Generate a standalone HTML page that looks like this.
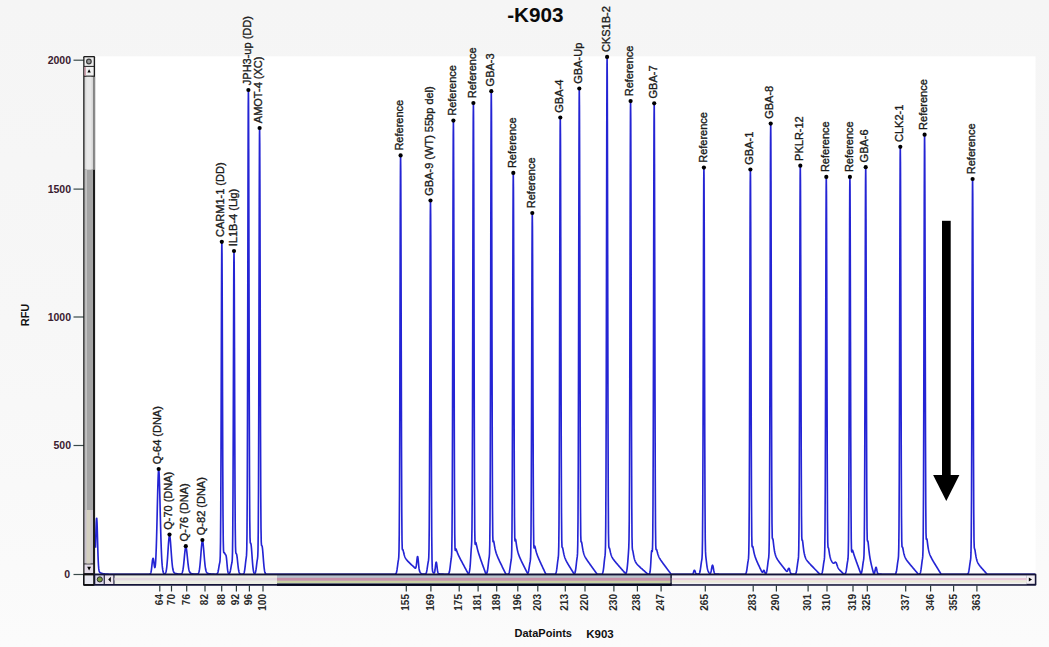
<!DOCTYPE html>
<html><head><meta charset="utf-8"><style>
html,body{margin:0;padding:0;background:#f6f6f6;}
svg{display:block;font-family:"Liberation Sans",sans-serif;}
</style></head><body>
<svg width="1049" height="647" viewBox="0 0 1049 647">
<defs><linearGradient id="bg" x1="0" y1="0" x2="0" y2="1"><stop offset="0" stop-color="#f5f5f5"/><stop offset="0.5" stop-color="#f7f7f7"/><stop offset="1" stop-color="#fbfbfb"/></linearGradient></defs>
<rect x="0" y="0" width="1049" height="647" fill="url(#bg)"/>
<rect x="95" y="56.3" width="940.5" height="518.5" fill="#ffffff"/>
<text x="535.4" y="22" text-anchor="middle" font-size="20.7" font-weight="bold" fill="#0a0a0a">-K903</text>
<text x="71" y="64.0" text-anchor="end" font-size="10.5" font-weight="bold" fill="#3a2030">2000</text>
<line x1="73.5" y1="60.2" x2="84" y2="60.2" stroke="#3a4a4a" stroke-width="1.2"/>
<text x="71" y="192.9" text-anchor="end" font-size="10.5" font-weight="bold" fill="#3a2030">1500</text>
<line x1="73.5" y1="189.1" x2="84" y2="189.1" stroke="#3a4a4a" stroke-width="1.2"/>
<text x="71" y="320.8" text-anchor="end" font-size="10.5" font-weight="bold" fill="#3a2030">1000</text>
<line x1="73.5" y1="317.0" x2="84" y2="317.0" stroke="#3a4a4a" stroke-width="1.2"/>
<text x="71" y="449.3" text-anchor="end" font-size="10.5" font-weight="bold" fill="#3a2030">500</text>
<line x1="73.5" y1="445.5" x2="84" y2="445.5" stroke="#3a4a4a" stroke-width="1.2"/>
<text x="70.2" y="578.3" text-anchor="end" font-size="10.5" font-weight="bold" fill="#3a2030">0</text>
<line x1="73.5" y1="574.5" x2="84" y2="574.5" stroke="#3a4a4a" stroke-width="1.2"/>
<text transform="translate(29,315) rotate(-90)" text-anchor="middle" font-size="11" font-weight="bold" fill="#101010">RFU</text>
<path d="M95.50,547.77 L95.75,538.45 L96.00,529.46 L96.25,522.38 L96.50,518.64 L96.60,518.30 L96.75,518.33 L97.00,521.95 L97.25,529.00 L97.50,537.87 L97.75,546.94 L98.00,554.95 L98.25,561.26 L98.50,565.74 L98.75,568.66 L99.00,570.41 L99.25,571.41 L99.50,571.98 L99.75,572.30 L100.00,572.51 L100.25,572.67 L100.50,572.80 L100.75,572.92 L101.00,573.02 L101.25,573.12 L101.50,573.21 L101.75,573.30 L102.00,573.38 L102.25,573.45 L102.50,573.52 L102.75,573.58 L103.00,573.64 L103.25,573.69 L103.50,573.74 L103.75,573.78 L104.00,573.83 L104.25,573.86 L104.50,573.90 L104.75,573.93 L105.00,573.96 L105.25,573.99 L105.50,574.01 L105.75,574.03 L106.00,574.06 L106.25,574.08 L106.50,574.09 L106.75,574.11 L107.00,574.13 L107.25,574.14 L107.50,574.15 L107.75,574.16 L108.00,574.17 L108.25,574.18 L108.50,574.19 L108.75,574.20 L109.00,574.21 L109.25,574.22 L109.50,574.22 L109.75,574.23 L110.00,574.24 L110.25,574.24 L110.50,574.25 L110.75,574.25 L111.00,574.25 L111.25,574.26 L111.50,574.26 L111.75,574.26 L112.00,574.27 L112.25,574.27 L112.50,574.27 L112.75,574.27 L113.00,574.28 L113.25,574.28 L113.50,574.28 L113.75,574.28 L114.00,574.28 L114.25,574.28 L114.50,574.29 L114.75,574.29 L115.00,574.29 L115.25,574.29 L115.50,574.29 L115.75,574.29 L116.00,574.29 L116.25,574.29 L116.50,574.29 L116.75,574.30 L117.00,574.30 L117.25,574.30 L117.50,574.30 L117.75,574.30 L118.00,574.30 L118.25,574.30 L118.50,574.30 L118.75,574.30 L119.00,574.30 L119.25,574.30 L119.50,574.30 L119.75,574.30 L120.00,574.30 L120.25,574.30 L120.50,574.30 L120.75,574.30 L121.00,574.30 L121.25,574.30 L121.50,574.30 L121.75,574.30 L122.00,574.30 L122.25,574.30 L122.50,574.30 L122.75,574.30 L123.00,574.30 L123.25,574.30 L123.50,574.30 L123.75,574.30 L124.00,574.30 L124.25,574.30 L124.50,574.30 L124.75,574.30 L125.00,574.30 L125.25,574.30 L125.50,574.30 L125.75,574.30 L126.00,574.30 L126.25,574.30 L126.50,574.30 L126.75,574.30 L127.00,574.30 L127.25,574.30 L127.50,574.30 L127.75,574.30 L128.00,574.30 L128.25,574.30 L128.50,574.30 L128.75,574.30 L129.00,574.30 L129.25,574.30 L129.50,574.30 L129.75,574.30 L130.00,574.30 L130.25,574.30 L130.50,574.30 L130.75,574.30 L131.00,574.30 L131.25,574.30 L131.50,574.30 L131.75,574.30 L132.00,574.30 L132.25,574.30 L132.50,574.30 L132.75,574.30 L133.00,574.30 L133.25,574.30 L133.50,574.30 L133.75,574.30 L134.00,574.30 L134.25,574.30 L134.50,574.30 L134.75,574.30 L135.00,574.30 L135.25,574.30 L135.50,574.30 L135.75,574.30 L136.00,574.30 L136.25,574.30 L136.50,574.30 L136.75,574.30 L137.00,574.30 L137.25,574.30 L137.50,574.30 L137.75,574.30 L138.00,574.30 L138.25,574.30 L138.50,574.30 L138.75,574.30 L139.00,574.30 L139.25,574.30 L139.50,574.30 L139.75,574.30 L140.00,574.30 L140.25,574.30 L140.50,574.30 L140.75,574.30 L141.00,574.30 L141.25,574.30 L141.50,574.30 L141.75,574.30 L142.00,574.30 L142.25,574.30 L142.50,574.30 L142.75,574.30 L143.00,574.30 L143.25,574.30 L143.50,574.30 L143.75,574.30 L144.00,574.30 L144.25,574.30 L144.50,574.30 L144.75,574.30 L145.00,574.30 L145.25,574.30 L145.50,574.30 L145.75,574.30 L146.00,574.30 L146.25,574.30 L146.50,574.30 L146.75,574.30 L147.00,574.30 L147.25,574.30 L147.50,574.30 L147.75,574.30 L148.00,574.30 L148.25,574.30 L148.50,574.30 L148.75,574.30 L149.00,574.29 L149.25,574.29 L149.50,574.27 L149.75,574.22 L150.00,574.12 L150.25,573.94 L150.50,573.60 L150.75,573.03 L151.00,572.13 L151.25,570.84 L151.50,569.11 L151.75,566.97 L152.00,564.59 L152.25,562.22 L152.50,560.17 L152.75,558.78 L153.00,558.26 L153.25,558.39 L153.50,559.50 L153.75,561.29 L154.00,563.36 L154.25,565.32 L154.50,566.81 L154.75,567.55 L155.00,567.35 L155.25,566.09 L155.50,563.63 L155.75,559.90 L156.00,554.80 L156.25,548.30 L156.50,540.42 L156.75,531.29 L157.00,521.18 L157.25,510.51 L157.50,499.84 L157.75,489.85 L158.00,481.27 L158.25,474.76 L158.40,472.08 L158.50,470.85 L158.55,470.41 L158.70,469.80 L158.75,469.84 L158.85,470.27 L159.00,471.79 L159.25,476.52 L159.50,483.64 L159.75,492.55 L160.00,502.54 L160.25,512.92 L160.50,523.06 L160.75,532.48 L161.00,540.88 L161.25,548.09 L161.50,554.10 L161.75,558.98 L162.00,562.87 L162.25,565.89 L162.50,568.22 L162.75,569.97 L163.00,571.28 L163.25,572.22 L163.50,572.90 L163.75,573.36 L164.00,573.67 L164.25,573.84 L164.50,573.92 L164.75,573.90 L165.00,573.78 L165.25,573.54 L165.50,573.16 L165.75,572.57 L166.00,571.74 L166.25,570.59 L166.50,569.06 L166.75,567.10 L167.00,564.66 L167.25,561.76 L167.50,558.42 L167.75,554.75 L168.00,550.88 L168.25,547.02 L168.50,543.39 L168.75,540.24 L169.00,537.79 L169.20,536.47 L169.25,536.24 L169.35,535.90 L169.50,535.70 L169.65,535.52 L169.75,535.79 L169.80,535.99 L170.00,537.15 L170.25,539.34 L170.50,542.17 L170.75,545.44 L171.00,548.96 L171.25,552.55 L171.50,556.04 L171.75,559.31 L172.00,562.24 L172.25,564.76 L172.50,566.85 L172.75,568.52 L173.00,569.82 L173.25,570.80 L173.50,571.53 L173.75,572.07 L174.00,572.46 L174.25,572.74 L174.50,572.95 L174.75,573.11 L175.00,573.24 L175.25,573.34 L175.50,573.43 L175.75,573.50 L176.00,573.57 L176.25,573.63 L176.50,573.68 L176.75,573.73 L177.00,573.78 L177.25,573.82 L177.50,573.86 L177.75,573.89 L178.00,573.93 L178.25,573.96 L178.50,573.98 L178.75,574.01 L179.00,574.03 L179.25,574.05 L179.50,574.07 L179.75,574.08 L180.00,574.09 L180.25,574.09 L180.50,574.08 L180.75,574.06 L181.00,574.00 L181.25,573.90 L181.50,573.74 L181.75,573.49 L182.00,573.11 L182.25,572.56 L182.50,571.81 L182.75,570.80 L183.00,569.49 L183.25,567.86 L183.50,565.89 L183.75,563.61 L184.00,561.08 L184.25,558.39 L184.50,555.67 L184.75,553.08 L185.00,550.79 L185.25,548.97 L185.50,547.75 L185.65,547.35 L185.75,547.23 L185.80,547.21 L185.95,547.08 L186.00,547.17 L186.10,547.42 L186.25,547.99 L186.50,549.42 L186.75,551.33 L187.00,553.57 L187.25,556.02 L187.50,558.53 L187.75,561.01 L188.00,563.34 L188.25,565.44 L188.50,567.27 L188.75,568.80 L189.00,570.02 L189.25,570.99 L189.50,571.72 L189.75,572.26 L190.00,572.66 L190.25,572.95 L190.50,573.16 L190.75,573.32 L191.00,573.44 L191.25,573.53 L191.50,573.61 L191.75,573.67 L192.00,573.73 L192.25,573.77 L192.50,573.82 L192.75,573.86 L193.00,573.89 L193.25,573.93 L193.50,573.96 L193.75,573.98 L194.00,574.01 L194.25,574.03 L194.50,574.05 L194.75,574.07 L195.00,574.09 L195.25,574.11 L195.50,574.12 L195.75,574.14 L196.00,574.15 L196.25,574.15 L196.50,574.16 L196.75,574.16 L197.00,574.14 L197.25,574.11 L197.50,574.05 L197.75,573.94 L198.00,573.77 L198.25,573.51 L198.50,573.10 L198.75,572.52 L199.00,571.70 L199.25,570.59 L199.50,569.13 L199.75,567.28 L200.00,565.02 L200.25,562.37 L200.50,559.37 L200.75,556.13 L201.00,552.78 L201.25,549.51 L201.50,546.53 L201.75,544.03 L202.00,542.22 L202.10,541.72 L202.25,541.23 L202.40,541.06 L202.50,540.83 L202.55,540.90 L202.70,541.31 L202.75,541.51 L203.00,542.98 L203.25,545.11 L203.50,547.72 L203.75,550.65 L204.00,553.72 L204.25,556.79 L204.50,559.73 L204.75,562.44 L205.00,564.82 L205.25,566.84 L205.50,568.50 L205.75,569.80 L206.00,570.80 L206.25,571.56 L206.50,572.11 L206.75,572.52 L207.00,572.82 L207.25,573.03 L207.50,573.19 L207.75,573.32 L208.00,573.42 L208.25,573.50 L208.50,573.57 L208.75,573.63 L209.00,573.69 L209.25,573.74 L209.50,573.78 L209.75,573.83 L210.00,573.86 L210.25,573.90 L210.50,573.93 L210.75,573.96 L211.00,573.99 L211.25,574.01 L211.50,574.04 L211.75,574.06 L212.00,574.08 L212.25,574.09 L212.50,574.11 L212.75,574.13 L213.00,574.14 L213.25,574.15 L213.50,574.16 L213.75,574.18 L214.00,574.19 L214.25,574.19 L214.50,574.20 L214.75,574.21 L215.00,574.22 L215.25,574.22 L215.50,574.23 L215.75,574.23 L216.00,574.22 L216.25,574.21 L216.50,574.17 L216.75,574.09 L217.00,573.94 L217.25,573.70 L217.50,573.31 L217.75,572.72 L218.00,571.89 L218.25,570.81 L218.50,569.48 L218.75,567.97 L219.00,566.40 L219.25,564.92 L219.50,563.67 L219.75,562.56 L220.00,560.83 L220.25,555.98 L220.50,542.40 L220.75,511.34 L221.00,455.22 L221.25,376.84 L221.50,296.79 L221.55,283.43 L221.70,253.45 L221.75,247.53 L221.85,242.60 L222.00,252.92 L222.15,282.36 L222.25,309.96 L222.50,391.13 L222.75,465.01 L223.00,514.66 L223.25,540.18 L223.50,550.04 L223.75,552.57 L224.00,552.74 L224.25,552.64 L224.50,552.87 L224.75,553.37 L225.00,553.94 L225.25,554.37 L225.50,554.63 L225.75,554.86 L226.00,555.39 L226.25,556.56 L226.30,556.89 L226.50,558.32 L226.75,560.80 L227.00,563.71 L227.25,566.60 L227.50,569.07 L227.75,570.95 L228.00,572.21 L228.25,572.98 L228.50,573.38 L228.75,573.56 L229.00,573.57 L229.25,573.46 L229.50,573.21 L229.75,572.79 L230.00,572.16 L230.25,571.28 L230.50,570.15 L230.75,568.79 L231.00,567.31 L231.25,565.82 L231.50,564.48 L231.75,563.36 L232.00,562.21 L232.25,559.76 L232.50,552.52 L232.75,533.65 L233.00,494.28 L233.25,429.85 L233.50,349.66 L233.70,291.48 L233.75,279.98 L233.85,262.34 L234.00,251.80 L234.15,261.84 L234.25,279.13 L234.30,290.45 L234.50,347.91 L234.75,427.10 L235.00,490.44 L235.25,528.63 L235.50,546.24 L235.75,552.20 L236.00,553.42 L236.25,553.51 L236.50,553.86 L236.75,554.83 L237.00,556.41 L237.25,558.46 L237.50,560.78 L237.75,563.19 L238.00,565.49 L238.25,567.57 L238.50,569.35 L238.75,570.78 L239.00,571.89 L239.25,572.71 L239.50,573.29 L239.75,573.68 L240.00,573.93 L240.25,574.08 L240.50,574.18 L240.75,574.23 L241.00,574.26 L241.25,574.28 L241.50,574.28 L241.75,574.29 L242.00,574.29 L242.25,574.28 L242.50,574.27 L242.75,574.24 L243.00,574.19 L243.25,574.08 L243.50,573.89 L243.75,573.56 L244.00,573.04 L244.25,572.24 L244.50,571.10 L244.75,569.59 L245.00,567.72 L245.25,565.55 L245.50,563.26 L245.75,561.07 L246.00,559.17 L246.25,557.55 L246.50,555.39 L246.75,549.71 L247.00,533.37 L247.25,494.29 L247.50,420.16 L247.75,310.87 L248.00,191.10 L248.10,150.32 L248.25,106.62 L248.40,90.80 L248.50,97.47 L248.55,105.85 L248.70,148.75 L248.75,167.95 L249.00,283.21 L249.25,395.90 L249.50,475.99 L249.75,519.41 L250.00,537.28 L250.25,542.42 L250.50,543.15 L250.75,543.30 L251.00,544.16 L251.25,546.00 L251.50,548.68 L251.75,551.95 L252.00,555.52 L252.25,559.09 L252.50,562.42 L252.75,565.37 L253.00,567.82 L253.25,569.77 L253.50,571.24 L253.75,572.30 L254.00,573.01 L254.25,573.44 L254.50,573.64 L254.75,573.64 L255.00,573.41 L255.25,572.95 L255.50,572.19 L255.75,571.09 L256.00,569.64 L256.25,567.85 L256.50,565.82 L256.75,563.71 L257.00,561.73 L257.25,560.05 L257.50,558.56 L257.75,556.24 L258.00,549.72 L258.25,531.47 L258.50,489.76 L258.75,414.38 L259.00,309.10 L259.25,201.58 L259.30,183.64 L259.45,143.38 L259.50,135.42 L259.60,128.80 L259.75,142.67 L259.90,182.20 L260.00,219.27 L260.25,328.28 L260.50,427.52 L260.75,494.21 L261.00,528.49 L261.25,541.75 L261.50,545.22 L261.75,545.61 L262.00,545.82 L262.25,546.80 L262.50,548.66 L262.75,551.26 L263.00,554.35 L263.25,557.66 L263.50,560.92 L263.75,563.93 L264.00,566.56 L264.25,568.73 L264.50,570.44 L264.75,571.72 L265.00,572.64 L265.25,573.27 L265.50,573.68 L265.75,573.94 L266.00,574.10 L266.25,574.19 L266.50,574.25 L266.75,574.27 L267.00,574.29 L267.25,574.29 L267.50,574.30 L267.75,574.30 L268.00,574.30 L268.25,574.30 L268.50,574.30 L268.75,574.30 L269.00,574.30 L269.25,574.30 L269.50,574.30 L269.75,574.30 L270.00,574.30 L270.25,574.30 L270.50,574.30 L270.75,574.30 L271.00,574.30 L271.25,574.30 L271.50,574.30 L271.75,574.30 L272.00,574.30 L272.25,574.30 L272.50,574.30 L272.75,574.30 L273.00,574.30 L273.25,574.30 L273.50,574.30 L273.75,574.30 L274.00,574.30 L274.25,574.30 L274.50,574.30 L274.75,574.30 L275.00,574.30 L275.25,574.30 L275.50,574.30 L275.75,574.30 L276.00,574.30 L276.25,574.30 L276.50,574.30 L276.75,574.30 L277.00,574.30 L277.25,574.30 L277.50,574.30 L277.75,574.30 L278.00,574.30 L278.25,574.30 L278.50,574.30 L278.75,574.30 L279.00,574.30 L279.25,574.30 L279.50,574.30 L279.75,574.30 L280.00,574.30 L280.25,574.30 L280.50,574.30 L280.75,574.30 L281.00,574.30 L281.25,574.30 L281.50,574.30 L281.75,574.30 L282.00,574.30 L282.25,574.30 L282.50,574.30 L282.75,574.30 L283.00,574.30 L283.25,574.30 L283.50,574.30 L283.75,574.30 L284.00,574.30 L284.25,574.30 L284.50,574.30 L284.75,574.30 L285.00,574.30 L285.25,574.30 L285.50,574.30 L285.75,574.30 L286.00,574.30 L286.25,574.30 L286.50,574.30 L286.75,574.30 L287.00,574.30 L287.25,574.30 L287.50,574.30 L287.75,574.30 L288.00,574.30 L288.25,574.30 L288.50,574.30 L288.75,574.30 L289.00,574.30 L289.25,574.30 L289.50,574.30 L289.75,574.30 L290.00,574.30 L290.25,574.30 L290.50,574.30 L290.75,574.30 L291.00,574.30 L291.25,574.30 L291.50,574.30 L291.75,574.30 L292.00,574.30 L292.25,574.30 L292.50,574.30 L292.75,574.30 L293.00,574.30 L293.25,574.30 L293.50,574.30 L293.75,574.30 L294.00,574.30 L294.25,574.30 L294.50,574.30 L294.75,574.30 L295.00,574.30 L295.25,574.30 L295.50,574.30 L295.75,574.30 L296.00,574.30 L296.25,574.30 L296.50,574.30 L296.75,574.30 L297.00,574.30 L297.25,574.30 L297.50,574.30 L297.75,574.30 L298.00,574.30 L298.25,574.30 L298.50,574.30 L298.75,574.30 L299.00,574.30 L299.25,574.30 L299.50,574.30 L299.75,574.30 L300.00,574.30 L300.25,574.30 L300.50,574.30 L300.75,574.30 L301.00,574.30 L301.25,574.30 L301.50,574.30 L301.75,574.30 L302.00,574.30 L302.25,574.30 L302.50,574.30 L302.75,574.30 L303.00,574.30 L303.25,574.30 L303.50,574.30 L303.75,574.30 L304.00,574.30 L304.25,574.30 L304.50,574.30 L304.75,574.30 L305.00,574.30 L305.25,574.30 L305.50,574.30 L305.75,574.30 L306.00,574.30 L306.25,574.30 L306.50,574.30 L306.75,574.30 L307.00,574.30 L307.25,574.30 L307.50,574.30 L307.75,574.30 L308.00,574.30 L308.25,574.30 L308.50,574.30 L308.75,574.30 L309.00,574.30 L309.25,574.30 L309.50,574.30 L309.75,574.30 L310.00,574.30 L310.25,574.30 L310.50,574.30 L310.75,574.30 L311.00,574.30 L311.25,574.30 L311.50,574.30 L311.75,574.30 L312.00,574.30 L312.25,574.30 L312.50,574.30 L312.75,574.30 L313.00,574.30 L313.25,574.30 L313.50,574.30 L313.75,574.30 L314.00,574.30 L314.25,574.30 L314.50,574.30 L314.75,574.30 L315.00,574.30 L315.25,574.30 L315.50,574.30 L315.75,574.30 L316.00,574.30 L316.25,574.30 L316.50,574.30 L316.75,574.30 L317.00,574.30 L317.25,574.30 L317.50,574.30 L317.75,574.30 L318.00,574.30 L318.25,574.30 L318.50,574.30 L318.75,574.30 L319.00,574.30 L319.25,574.30 L319.50,574.30 L319.75,574.30 L320.00,574.30 L320.25,574.30 L320.50,574.30 L320.75,574.30 L321.00,574.30 L321.25,574.30 L321.50,574.30 L321.75,574.30 L322.00,574.30 L322.25,574.30 L322.50,574.30 L322.75,574.30 L323.00,574.30 L323.25,574.30 L323.50,574.30 L323.75,574.30 L324.00,574.30 L324.25,574.30 L324.50,574.30 L324.75,574.30 L325.00,574.30 L325.25,574.30 L325.50,574.30 L325.75,574.30 L326.00,574.30 L326.25,574.30 L326.50,574.30 L326.75,574.30 L327.00,574.30 L327.25,574.30 L327.50,574.30 L327.75,574.30 L328.00,574.30 L328.25,574.30 L328.50,574.30 L328.75,574.30 L329.00,574.30 L329.25,574.30 L329.50,574.30 L329.75,574.30 L330.00,574.30 L330.25,574.30 L330.50,574.30 L330.75,574.30 L331.00,574.30 L331.25,574.30 L331.50,574.30 L331.75,574.30 L332.00,574.30 L332.25,574.30 L332.50,574.30 L332.75,574.30 L333.00,574.30 L333.25,574.30 L333.50,574.30 L333.75,574.30 L334.00,574.30 L334.25,574.30 L334.50,574.30 L334.75,574.30 L335.00,574.30 L335.25,574.30 L335.50,574.30 L335.75,574.30 L336.00,574.30 L336.25,574.30 L336.50,574.30 L336.75,574.30 L337.00,574.30 L337.25,574.30 L337.50,574.30 L337.75,574.30 L338.00,574.30 L338.25,574.30 L338.50,574.30 L338.75,574.30 L339.00,574.30 L339.25,574.30 L339.50,574.30 L339.75,574.30 L340.00,574.30 L340.25,574.30 L340.50,574.30 L340.75,574.30 L341.00,574.30 L341.25,574.30 L341.50,574.30 L341.75,574.30 L342.00,574.30 L342.25,574.30 L342.50,574.30 L342.75,574.30 L343.00,574.30 L343.25,574.30 L343.50,574.30 L343.75,574.30 L344.00,574.30 L344.25,574.30 L344.50,574.30 L344.75,574.30 L345.00,574.30 L345.25,574.30 L345.50,574.30 L345.75,574.30 L346.00,574.30 L346.25,574.30 L346.50,574.30 L346.75,574.30 L347.00,574.30 L347.25,574.30 L347.50,574.30 L347.75,574.30 L348.00,574.30 L348.25,574.30 L348.50,574.30 L348.75,574.30 L349.00,574.30 L349.25,574.30 L349.50,574.30 L349.75,574.30 L350.00,574.30 L350.25,574.30 L350.50,574.30 L350.75,574.30 L351.00,574.30 L351.25,574.30 L351.50,574.30 L351.75,574.30 L352.00,574.30 L352.25,574.30 L352.50,574.30 L352.75,574.30 L353.00,574.30 L353.25,574.30 L353.50,574.30 L353.75,574.30 L354.00,574.30 L354.25,574.30 L354.50,574.30 L354.75,574.30 L355.00,574.30 L355.25,574.30 L355.50,574.30 L355.75,574.30 L356.00,574.30 L356.25,574.30 L356.50,574.30 L356.75,574.30 L357.00,574.30 L357.25,574.30 L357.50,574.30 L357.75,574.30 L358.00,574.30 L358.25,574.30 L358.50,574.30 L358.75,574.30 L359.00,574.30 L359.25,574.30 L359.50,574.30 L359.75,574.30 L360.00,574.30 L360.25,574.30 L360.50,574.30 L360.75,574.30 L361.00,574.30 L361.25,574.30 L361.50,574.30 L361.75,574.30 L362.00,574.30 L362.25,574.30 L362.50,574.30 L362.75,574.30 L363.00,574.30 L363.25,574.30 L363.50,574.30 L363.75,574.30 L364.00,574.30 L364.25,574.30 L364.50,574.30 L364.75,574.30 L365.00,574.30 L365.25,574.30 L365.50,574.30 L365.75,574.30 L366.00,574.30 L366.25,574.30 L366.50,574.30 L366.75,574.30 L367.00,574.30 L367.25,574.30 L367.50,574.30 L367.75,574.30 L368.00,574.30 L368.25,574.30 L368.50,574.30 L368.75,574.30 L369.00,574.30 L369.25,574.30 L369.50,574.30 L369.75,574.30 L370.00,574.30 L370.25,574.30 L370.50,574.30 L370.75,574.30 L371.00,574.30 L371.25,574.30 L371.50,574.30 L371.75,574.30 L372.00,574.30 L372.25,574.30 L372.50,574.30 L372.75,574.30 L373.00,574.30 L373.25,574.30 L373.50,574.30 L373.75,574.30 L374.00,574.30 L374.25,574.30 L374.50,574.30 L374.75,574.30 L375.00,574.30 L375.25,574.30 L375.50,574.30 L375.75,574.30 L376.00,574.30 L376.25,574.30 L376.50,574.30 L376.75,574.30 L377.00,574.30 L377.25,574.30 L377.50,574.30 L377.75,574.30 L378.00,574.30 L378.25,574.30 L378.50,574.30 L378.75,574.30 L379.00,574.30 L379.25,574.30 L379.50,574.30 L379.75,574.30 L380.00,574.30 L380.25,574.30 L380.50,574.30 L380.75,574.30 L381.00,574.30 L381.25,574.30 L381.50,574.30 L381.75,574.30 L382.00,574.30 L382.25,574.30 L382.50,574.30 L382.75,574.30 L383.00,574.30 L383.25,574.30 L383.50,574.30 L383.75,574.30 L384.00,574.30 L384.25,574.30 L384.50,574.30 L384.75,574.30 L385.00,574.30 L385.25,574.30 L385.50,574.30 L385.75,574.30 L386.00,574.30 L386.25,574.30 L386.50,574.30 L386.75,574.30 L387.00,574.30 L387.25,574.30 L387.50,574.30 L387.75,574.30 L388.00,574.30 L388.25,574.30 L388.50,574.30 L388.75,574.30 L389.00,574.30 L389.25,574.30 L389.50,574.30 L389.75,574.30 L390.00,574.30 L390.25,574.30 L390.50,574.30 L390.75,574.30 L391.00,574.30 L391.25,574.30 L391.50,574.30 L391.75,574.30 L392.00,574.30 L392.25,574.30 L392.50,574.30 L392.75,574.30 L393.00,574.30 L393.25,574.30 L393.50,574.30 L393.75,574.30 L394.00,574.30 L394.25,574.30 L394.50,574.29 L394.75,574.28 L395.00,574.25 L395.25,574.19 L395.50,574.09 L395.75,573.90 L396.00,573.59 L396.25,573.08 L396.50,572.34 L396.75,571.28 L397.00,569.90 L397.25,568.21 L397.50,566.29 L397.75,564.30 L398.00,562.42 L398.25,560.83 L398.50,559.43 L398.75,557.23 L399.00,551.08 L399.25,533.85 L399.50,494.48 L399.75,423.35 L400.00,324.14 L400.25,223.14 L400.30,206.37 L400.45,169.01 L400.50,161.78 L400.60,156.20 L400.75,170.28 L400.90,208.99 L401.00,245.01 L401.25,350.52 L401.50,446.19 L401.75,509.53 L402.00,539.79 L402.25,548.49 L402.50,549.74 L402.75,549.52 L403.00,549.88 L403.25,550.81 L403.50,551.94 L403.75,553.07 L404.00,554.09 L404.25,554.99 L404.50,555.78 L404.75,556.47 L405.00,557.07 L405.25,557.61 L405.50,558.09 L405.75,558.53 L406.00,558.92 L406.25,559.29 L406.50,559.63 L406.75,559.95 L407.00,560.26 L407.25,560.55 L407.50,560.83 L407.75,561.11 L408.00,561.37 L408.25,561.63 L408.50,561.89 L408.75,562.14 L409.00,562.39 L409.25,562.63 L409.50,562.88 L409.75,563.12 L410.00,563.36 L410.25,563.60 L410.50,563.84 L410.75,564.08 L411.00,564.32 L411.25,564.55 L411.50,564.79 L411.75,565.03 L412.00,565.26 L412.25,565.50 L412.50,565.74 L412.75,565.97 L413.00,566.21 L413.25,566.44 L413.50,566.68 L413.75,566.91 L414.00,567.15 L414.25,567.38 L414.50,567.61 L414.75,567.83 L415.00,568.02 L415.25,568.14 L415.50,568.11 L415.75,567.83 L416.00,567.14 L416.25,565.90 L416.50,564.06 L416.75,561.78 L417.00,559.40 L417.25,557.48 L417.50,556.55 L417.60,556.54 L417.75,556.74 L418.00,558.15 L418.25,560.55 L418.50,563.33 L418.75,565.98 L419.00,568.16 L419.25,569.77 L419.50,570.86 L419.75,571.58 L420.00,572.07 L420.25,572.43 L420.50,572.74 L420.75,573.03 L421.00,573.30 L421.25,573.57 L421.50,573.83 L421.75,573.95 L422.00,573.98 L422.25,574.01 L422.50,574.03 L422.75,574.05 L423.00,574.07 L423.25,574.09 L423.50,574.10 L423.75,574.12 L424.00,574.13 L424.25,574.14 L424.50,574.15 L424.75,574.14 L425.00,574.12 L425.25,574.07 L425.50,573.96 L425.75,573.76 L426.00,573.42 L426.25,572.90 L426.50,572.13 L426.75,571.08 L427.00,569.74 L427.25,568.14 L427.50,566.39 L427.75,564.64 L428.00,563.06 L428.25,561.75 L428.50,560.40 L428.75,557.53 L429.00,549.09 L429.25,527.11 L429.50,481.30 L429.75,406.38 L430.00,313.30 L430.20,246.05 L430.25,232.84 L430.35,212.73 L430.50,201.30 L430.65,214.07 L430.75,235.08 L430.80,248.74 L431.00,317.76 L431.25,412.93 L431.50,489.65 L431.75,536.74 L432.00,559.27 L432.25,567.89 L432.50,570.78 L432.75,571.76 L433.00,572.25 L433.25,572.61 L433.50,572.88 L433.75,573.06 L434.00,573.11 L434.25,572.94 L434.50,572.44 L434.75,571.49 L435.00,570.00 L435.25,568.05 L435.50,565.85 L435.75,563.84 L436.00,562.49 L436.20,562.15 L436.25,562.12 L436.50,562.72 L436.75,564.31 L437.00,566.44 L437.25,568.62 L437.50,570.48 L437.75,571.86 L438.00,572.76 L438.25,573.30 L438.50,573.58 L438.75,573.74 L439.00,573.82 L439.25,573.87 L439.50,573.90 L439.75,573.93 L440.00,573.96 L440.25,573.99 L440.50,574.01 L440.75,574.04 L441.00,574.06 L441.25,574.08 L441.50,574.09 L441.75,574.11 L442.00,574.13 L442.25,574.14 L442.50,574.15 L442.75,574.16 L443.00,574.18 L443.25,574.19 L443.50,574.19 L443.75,574.20 L444.00,574.21 L444.25,574.22 L444.50,574.22 L444.75,574.23 L445.00,574.24 L445.25,574.24 L445.50,574.25 L445.75,574.25 L446.00,574.25 L446.25,574.26 L446.50,574.26 L446.75,574.26 L447.00,574.26 L447.25,574.26 L447.50,574.25 L447.75,574.23 L448.00,574.18 L448.25,574.08 L448.50,573.90 L448.75,573.59 L449.00,573.09 L449.25,572.34 L449.50,571.27 L449.75,569.85 L450.00,568.08 L450.25,566.04 L450.50,563.88 L450.75,561.81 L451.00,560.02 L451.25,558.50 L451.50,556.46 L451.75,551.11 L452.00,535.71 L452.25,498.89 L452.50,429.08 L452.75,326.24 L453.00,213.84 L453.10,175.74 L453.25,135.28 L453.40,121.40 L453.50,128.34 L453.55,136.70 L453.70,178.66 L453.75,197.31 L454.00,308.85 L454.25,417.65 L454.50,494.45 L454.75,534.50 L455.00,548.24 L455.25,550.44 L455.50,549.52 L455.75,548.87 L456.00,548.95 L456.25,549.47 L456.50,550.16 L456.75,550.90 L457.00,551.62 L457.25,552.31 L457.50,552.96 L457.75,553.58 L458.00,554.18 L458.25,554.75 L458.50,555.30 L458.75,555.83 L459.00,556.35 L459.25,556.86 L459.50,557.37 L459.75,557.86 L460.00,558.35 L460.25,558.84 L460.50,559.32 L460.75,559.80 L461.00,560.27 L461.25,560.75 L461.50,561.22 L461.75,561.69 L462.00,562.16 L462.25,562.63 L462.50,563.10 L462.75,563.57 L463.00,564.04 L463.25,564.51 L463.50,564.97 L463.75,565.44 L464.00,565.91 L464.25,566.37 L464.50,566.84 L464.75,567.31 L465.00,567.77 L465.25,568.24 L465.50,568.71 L465.75,569.17 L466.00,569.64 L466.25,570.11 L466.50,570.57 L466.75,571.04 L467.00,571.50 L467.25,571.96 L467.50,572.41 L467.75,572.85 L468.00,573.26 L468.25,573.63 L468.50,573.90 L468.75,573.58 L469.00,573.06 L469.25,572.28 L469.50,571.14 L469.75,569.55 L470.00,567.42 L470.25,564.60 L470.50,561.01 L470.75,556.77 L471.00,552.43 L471.25,548.74 L471.50,545.80 L471.75,540.87 L472.00,526.86 L472.25,491.06 L472.50,420.66 L472.75,315.27 L473.00,199.33 L473.10,159.96 L473.25,118.12 L473.40,103.80 L473.50,110.99 L473.55,119.66 L473.70,163.20 L473.75,182.54 L474.00,298.17 L474.25,410.76 L474.50,489.84 L474.75,530.27 L475.00,543.00 L475.25,544.37 L475.50,543.07 L475.75,542.52 L476.00,542.95 L476.25,543.91 L476.50,545.06 L476.75,546.23 L477.00,547.35 L477.25,548.41 L477.50,549.41 L477.75,550.36 L478.00,551.26 L478.25,552.13 L478.50,552.96 L478.75,553.76 L479.00,554.55 L479.25,555.31 L479.50,556.07 L479.75,556.81 L480.00,557.54 L480.25,558.27 L480.50,558.99 L480.75,559.70 L481.00,560.41 L481.25,561.11 L481.50,561.82 L481.75,562.52 L482.00,563.22 L482.25,563.91 L482.50,564.61 L482.75,565.30 L483.00,566.00 L483.25,566.69 L483.50,567.38 L483.75,568.08 L484.00,568.77 L484.25,569.46 L484.50,570.15 L484.75,570.84 L485.00,571.53 L485.25,572.21 L485.50,572.88 L485.75,573.53 L486.00,574.15 L486.25,574.01 L486.50,573.77 L486.75,573.37 L487.00,572.74 L487.25,571.81 L487.50,570.53 L487.75,568.86 L488.00,566.84 L488.25,564.60 L488.50,562.31 L488.75,560.20 L489.00,558.44 L489.25,556.78 L489.50,553.74 L489.75,544.91 L490.00,521.05 L490.25,468.92 L490.50,379.30 L490.75,261.17 L491.00,149.87 L491.15,106.78 L491.25,93.47 L491.30,92.00 L491.45,108.19 L491.50,120.25 L491.60,152.82 L491.75,217.45 L492.00,340.07 L492.25,443.82 L492.50,508.02 L492.75,535.59 L493.00,541.69 L493.25,541.52 L493.50,540.93 L493.75,541.45 L494.00,542.72 L494.25,544.25 L494.50,545.77 L494.75,547.17 L495.00,548.45 L495.25,549.59 L495.50,550.62 L495.75,551.55 L496.00,552.41 L496.25,553.21 L496.50,553.95 L496.75,554.65 L497.00,555.31 L497.25,555.95 L497.50,556.56 L497.75,557.16 L498.00,557.74 L498.25,558.30 L498.50,558.86 L498.75,559.41 L499.00,559.95 L499.25,560.49 L499.50,561.03 L499.75,561.56 L500.00,562.09 L500.25,562.61 L500.50,563.13 L500.75,563.66 L501.00,564.18 L501.25,564.70 L501.50,565.21 L501.75,565.73 L502.00,566.25 L502.25,566.77 L502.50,567.28 L502.75,567.80 L503.00,568.32 L503.25,568.83 L503.50,569.35 L503.75,569.87 L504.00,570.38 L504.25,570.90 L504.50,571.41 L504.75,571.93 L505.00,572.44 L505.25,572.96 L505.50,573.47 L505.75,573.99 L506.00,574.30 L506.25,574.30 L506.50,574.30 L506.75,574.30 L507.00,574.30 L507.25,574.29 L507.50,574.27 L507.75,574.24 L508.00,574.18 L508.25,574.07 L508.50,573.87 L508.75,573.54 L509.00,573.01 L509.25,572.24 L509.50,571.17 L509.75,569.78 L510.00,568.11 L510.25,566.25 L510.50,564.34 L510.75,562.59 L511.00,561.13 L511.25,559.75 L511.50,557.23 L511.75,549.89 L512.00,530.07 L512.25,486.78 L512.50,412.34 L512.75,314.21 L513.00,221.77 L513.15,185.98 L513.25,174.92 L513.30,173.70 L513.45,187.06 L513.50,197.06 L513.60,224.06 L513.75,277.65 L514.00,379.20 L514.25,464.74 L514.50,516.84 L514.75,537.79 L515.00,540.87 L515.25,539.82 L515.50,539.21 L515.75,539.99 L516.00,541.58 L516.25,543.39 L516.50,545.15 L516.75,546.75 L517.00,548.18 L517.25,549.45 L517.50,550.59 L517.75,551.60 L518.00,552.52 L518.25,553.36 L518.50,554.14 L518.75,554.87 L519.00,555.56 L519.25,556.21 L519.50,556.83 L519.75,557.43 L520.00,558.02 L520.25,558.59 L520.50,559.14 L520.75,559.69 L521.00,560.23 L521.25,560.76 L521.50,561.29 L521.75,561.81 L522.00,562.33 L522.25,562.85 L522.50,563.36 L522.75,563.87 L523.00,564.38 L523.25,564.89 L523.50,565.40 L523.75,565.91 L524.00,566.42 L524.25,566.92 L524.50,567.43 L524.75,567.94 L525.00,568.44 L525.25,568.95 L525.50,569.45 L525.75,569.96 L526.00,570.46 L526.25,570.96 L526.50,571.45 L526.75,571.93 L527.00,572.38 L527.25,572.78 L527.50,573.10 L527.75,573.31 L528.00,573.14 L528.25,572.45 L528.50,571.48 L528.75,570.24 L529.00,568.73 L529.25,567.05 L529.50,565.34 L529.75,563.76 L530.00,562.44 L530.25,561.20 L530.50,558.93 L530.75,552.34 L531.00,534.50 L531.25,495.54 L531.50,428.55 L531.75,340.25 L532.00,257.05 L532.15,224.85 L532.25,214.90 L532.30,213.80 L532.45,225.88 L532.50,234.89 L532.60,259.22 L532.75,307.50 L533.00,399.07 L533.25,476.44 L533.50,524.08 L533.75,544.15 L534.00,547.97 L534.25,547.02 L534.50,545.97 L534.75,545.99 L535.00,546.74 L535.25,547.79 L535.50,548.90 L535.75,549.97 L536.00,550.96 L536.25,551.88 L536.50,552.74 L536.75,553.53 L537.00,554.28 L537.25,554.99 L537.50,555.67 L537.75,556.32 L538.00,556.95 L538.25,557.56 L538.50,558.16 L538.75,558.74 L539.00,559.32 L539.25,559.89 L539.50,560.45 L539.75,561.01 L540.00,561.56 L540.25,562.11 L540.50,562.66 L540.75,563.21 L541.00,563.75 L541.25,564.29 L541.50,564.84 L541.75,565.38 L542.00,565.92 L542.25,566.46 L542.50,566.99 L542.75,567.53 L543.00,568.07 L543.25,568.61 L543.50,569.15 L543.75,569.68 L544.00,570.22 L544.25,570.76 L544.50,571.29 L544.75,571.83 L545.00,572.37 L545.25,572.90 L545.50,573.44 L545.75,573.98 L546.00,574.30 L546.25,574.30 L546.50,574.30 L546.75,574.30 L547.00,574.30 L547.25,574.30 L547.50,574.30 L547.75,574.30 L548.00,574.30 L548.25,574.30 L548.50,574.30 L548.75,574.30 L549.00,574.30 L549.25,574.30 L549.50,574.30 L549.75,574.30 L550.00,574.30 L550.25,574.30 L550.50,574.30 L550.75,574.30 L551.00,574.30 L551.25,574.30 L551.50,574.30 L551.75,574.30 L552.00,574.30 L552.25,574.30 L552.50,574.30 L552.75,574.30 L553.00,574.30 L553.25,574.30 L553.50,574.30 L553.75,574.30 L554.00,574.29 L554.25,574.29 L554.50,574.27 L554.75,574.24 L555.00,574.17 L555.25,574.04 L555.50,573.81 L555.75,573.43 L556.00,572.83 L556.25,571.96 L556.50,570.74 L556.75,569.16 L557.00,567.25 L557.25,565.13 L557.50,562.97 L557.75,560.97 L558.00,559.30 L558.25,557.73 L558.50,554.86 L558.75,546.52 L559.00,523.95 L559.25,474.67 L559.50,389.94 L559.75,278.24 L560.00,173.01 L560.15,132.28 L560.25,119.69 L560.30,118.30 L560.45,133.65 L560.50,145.06 L560.60,175.88 L560.75,237.03 L561.00,353.12 L561.25,451.54 L561.50,512.86 L561.75,539.92 L562.00,546.85 L562.25,547.62 L562.50,547.59 L562.75,548.30 L563.00,549.54 L563.25,550.94 L563.50,552.30 L563.75,553.53 L564.00,554.64 L564.25,555.62 L564.50,556.50 L564.75,557.29 L565.00,558.00 L565.25,558.66 L565.50,559.27 L565.75,559.84 L566.00,560.38 L566.25,560.89 L566.50,561.39 L566.75,561.86 L567.00,562.32 L567.25,562.77 L567.50,563.21 L567.75,563.65 L568.00,564.07 L568.25,564.50 L568.50,564.91 L568.75,565.33 L569.00,565.74 L569.25,566.15 L569.50,566.56 L569.75,566.97 L570.00,567.38 L570.25,567.78 L570.50,568.19 L570.75,568.59 L571.00,568.99 L571.25,569.40 L571.50,569.80 L571.75,570.20 L572.00,570.60 L572.25,571.01 L572.50,571.41 L572.75,571.81 L573.00,572.21 L573.25,572.60 L573.50,572.98 L573.75,573.35 L574.00,573.68 L574.25,573.94 L574.50,573.78 L574.75,573.37 L575.00,572.74 L575.25,571.81 L575.50,570.51 L575.75,568.83 L576.00,566.81 L576.25,564.55 L576.50,562.24 L576.75,560.13 L577.00,558.35 L577.25,556.68 L577.50,553.63 L577.75,544.75 L578.00,520.75 L578.25,468.34 L578.50,378.21 L578.75,259.42 L579.00,147.49 L579.15,104.16 L579.25,90.78 L579.30,89.30 L579.45,105.58 L579.50,117.71 L579.60,150.46 L579.75,215.45 L580.00,338.76 L580.25,443.09 L580.50,507.65 L580.75,535.37 L581.00,541.67 L581.25,541.99 L581.50,541.88 L581.75,542.79 L582.00,544.34 L582.25,546.06 L582.50,547.69 L582.75,549.15 L583.00,550.44 L583.25,551.56 L583.50,552.54 L583.75,553.40 L584.00,554.17 L584.25,554.86 L584.50,555.48 L584.75,556.05 L585.00,556.58 L585.25,557.08 L585.50,557.55 L585.75,557.99 L586.00,558.42 L586.25,558.83 L586.50,559.23 L586.75,559.62 L587.00,560.00 L587.25,560.37 L587.50,560.74 L587.75,561.11 L588.00,561.47 L588.25,561.83 L588.50,562.19 L588.75,562.54 L589.00,562.89 L589.25,563.25 L589.50,563.60 L589.75,563.95 L590.00,564.30 L590.25,564.65 L590.50,565.00 L590.75,565.34 L591.00,565.69 L591.25,566.04 L591.50,566.39 L591.75,566.74 L592.00,567.08 L592.25,567.43 L592.50,567.78 L592.75,568.12 L593.00,568.47 L593.25,568.82 L593.50,569.17 L593.75,569.51 L594.00,569.86 L594.25,570.21 L594.50,570.55 L594.75,570.90 L595.00,571.25 L595.25,571.59 L595.50,571.94 L595.75,572.29 L596.00,572.63 L596.25,572.98 L596.50,573.33 L596.75,573.68 L597.00,574.02 L597.25,574.30 L597.50,574.30 L597.75,574.30 L598.00,574.30 L598.25,574.30 L598.50,574.30 L598.75,574.30 L599.00,574.30 L599.25,574.30 L599.50,574.30 L599.75,574.30 L600.00,574.30 L600.25,574.30 L600.50,574.30 L600.75,574.29 L601.00,574.29 L601.25,574.27 L601.50,574.24 L601.75,574.17 L602.00,574.04 L602.25,573.81 L602.50,573.42 L602.75,572.80 L603.00,571.87 L603.25,570.57 L603.50,568.87 L603.75,566.78 L604.00,564.41 L604.25,561.94 L604.50,559.63 L604.75,557.66 L605.00,555.92 L605.25,553.21 L605.50,545.61 L605.75,524.32 L606.00,475.67 L606.25,387.79 L606.50,265.21 L606.75,140.41 L606.80,119.68 L606.95,73.53 L607.00,64.60 L607.10,57.70 L607.25,75.14 L607.40,123.01 L607.50,167.54 L607.75,298.04 L608.00,416.56 L608.25,495.39 L608.50,533.75 L608.75,545.66 L609.00,547.87 L609.25,547.84 L609.50,548.24 L609.75,549.20 L610.00,550.39 L610.25,551.57 L610.50,552.66 L610.75,553.62 L611.00,554.47 L611.25,555.22 L611.50,555.89 L611.75,556.48 L612.00,557.02 L612.25,557.51 L612.50,557.96 L612.75,558.38 L613.00,558.78 L613.25,559.16 L613.50,559.51 L613.75,559.86 L614.00,560.19 L614.25,560.52 L614.50,560.84 L614.75,561.15 L615.00,561.46 L615.25,561.76 L615.50,562.06 L615.75,562.36 L616.00,562.66 L616.25,562.95 L616.50,563.25 L616.75,563.54 L617.00,563.83 L617.25,564.12 L617.50,564.41 L617.75,564.70 L618.00,564.99 L618.25,565.28 L618.50,565.56 L618.75,565.85 L619.00,566.14 L619.25,566.43 L619.50,566.72 L619.75,567.00 L620.00,567.29 L620.25,567.58 L620.50,567.87 L620.75,568.15 L621.00,568.44 L621.25,568.73 L621.50,569.01 L621.75,569.30 L622.00,569.59 L622.25,569.88 L622.50,570.16 L622.75,570.45 L623.00,570.74 L623.25,571.03 L623.50,571.31 L623.75,571.60 L624.00,571.89 L624.25,572.17 L624.50,572.45 L624.75,572.72 L625.00,572.98 L625.25,573.20 L625.50,573.37 L625.75,573.45 L626.00,573.38 L626.25,572.93 L626.50,572.08 L626.75,570.89 L627.00,569.31 L627.25,567.31 L627.50,564.91 L627.75,562.10 L628.00,558.90 L628.25,555.44 L628.50,551.87 L628.75,547.71 L629.00,540.09 L629.25,521.16 L629.50,478.31 L629.75,399.97 L630.00,289.66 L630.25,176.75 L630.30,157.97 L630.45,116.15 L630.50,108.07 L630.60,101.90 L630.75,117.94 L630.90,161.72 L631.00,202.41 L631.25,321.62 L631.50,429.84 L631.75,501.77 L632.00,536.67 L632.25,547.49 L632.50,550.03 L632.75,550.66 L633.00,551.64 L633.25,553.03 L633.50,554.52 L633.75,555.91 L634.00,557.15 L634.25,558.23 L634.50,559.15 L634.75,559.95 L635.00,560.64 L635.25,561.25 L635.50,561.78 L635.75,562.26 L636.00,562.69 L636.25,563.08 L636.50,563.44 L636.75,563.78 L637.00,564.09 L637.25,564.39 L637.50,564.67 L637.75,564.94 L638.00,565.21 L638.25,565.46 L638.50,565.71 L638.75,565.96 L639.00,566.20 L639.25,566.44 L639.50,566.67 L639.75,566.91 L640.00,567.14 L640.25,567.37 L640.50,567.60 L640.75,567.82 L641.00,568.05 L641.25,568.28 L641.50,568.50 L641.75,568.73 L642.00,568.95 L642.25,569.17 L642.50,569.40 L642.75,569.62 L643.00,569.85 L643.25,570.07 L643.50,570.29 L643.75,570.52 L644.00,570.74 L644.25,570.96 L644.50,571.18 L644.75,571.41 L645.00,571.63 L645.25,571.85 L645.50,572.07 L645.75,572.30 L646.00,572.52 L646.25,572.74 L646.50,572.96 L646.75,573.19 L647.00,573.41 L647.25,573.63 L647.50,573.85 L647.75,574.07 L648.00,574.29 L648.25,574.28 L648.50,574.26 L648.75,574.21 L649.00,574.12 L649.25,573.94 L649.50,573.62 L649.75,573.05 L650.00,572.03 L650.25,570.28 L650.50,567.53 L650.75,563.68 L651.00,559.12 L651.25,554.79 L651.50,551.77 L651.75,550.47 L652.00,550.83 L652.25,551.38 L652.50,548.95 L652.75,537.20 L653.00,505.24 L653.25,440.57 L653.50,339.79 L653.75,222.03 L653.90,160.44 L654.00,129.71 L654.05,118.48 L654.20,104.10 L654.25,105.92 L654.35,119.98 L654.50,163.52 L654.75,274.28 L655.00,390.96 L655.25,478.40 L655.50,526.97 L655.75,545.44 L656.00,549.57 L656.25,549.55 L656.50,549.43 L656.75,549.95 L657.00,550.85 L657.25,551.85 L657.50,552.83 L657.75,553.72 L658.00,554.53 L658.25,555.26 L658.50,555.92 L658.75,556.51 L659.00,557.06 L659.25,557.57 L659.50,558.05 L659.75,558.50 L660.00,558.93 L660.25,559.34 L660.50,559.74 L660.75,560.13 L661.00,560.50 L661.25,560.87 L661.50,561.23 L661.75,561.59 L662.00,561.94 L662.25,562.29 L662.50,562.64 L662.75,562.98 L663.00,563.32 L663.25,563.67 L663.50,564.01 L663.75,564.34 L664.00,564.68 L664.25,565.02 L664.50,565.35 L664.75,565.69 L665.00,566.03 L665.25,566.36 L665.50,566.69 L665.75,567.03 L666.00,567.36 L666.25,567.70 L666.50,568.03 L666.75,568.37 L667.00,568.70 L667.25,569.03 L667.50,569.37 L667.75,569.70 L668.00,570.03 L668.25,570.37 L668.50,570.70 L668.75,571.03 L669.00,571.37 L669.25,571.70 L669.50,572.03 L669.75,572.37 L670.00,572.70 L670.25,573.03 L670.50,573.37 L670.75,573.70 L671.00,574.03 L671.25,574.30 L671.50,574.30 L671.75,574.30 L672.00,574.30 L672.25,574.30 L672.50,574.30 L672.75,574.30 L673.00,574.30 L673.25,574.30 L673.50,574.30 L673.75,574.30 L674.00,574.30 L674.25,574.30 L674.50,574.30 L674.75,574.30 L675.00,574.30 L675.25,574.30 L675.50,574.30 L675.75,574.30 L676.00,574.30 L676.25,574.30 L676.50,574.30 L676.75,574.30 L677.00,574.30 L677.25,574.30 L677.50,574.30 L677.75,574.30 L678.00,574.30 L678.25,574.30 L678.50,574.30 L678.75,574.30 L679.00,574.30 L679.25,574.30 L679.50,574.30 L679.75,574.30 L680.00,574.30 L680.25,574.30 L680.50,574.30 L680.75,574.30 L681.00,574.30 L681.25,574.30 L681.50,574.30 L681.75,574.30 L682.00,574.30 L682.25,574.30 L682.50,574.30 L682.75,574.30 L683.00,574.30 L683.25,574.30 L683.50,574.30 L683.75,574.30 L684.00,574.30 L684.25,574.30 L684.50,574.30 L684.75,574.30 L685.00,574.30 L685.25,574.30 L685.50,574.30 L685.75,574.30 L686.00,574.30 L686.25,574.30 L686.50,574.30 L686.75,574.30 L687.00,574.30 L687.25,574.30 L687.50,574.30 L687.75,574.30 L688.00,574.30 L688.25,574.30 L688.50,574.30 L688.75,574.30 L689.00,574.30 L689.25,574.30 L689.50,574.30 L689.75,574.30 L690.00,574.30 L690.25,574.30 L690.50,574.30 L690.75,574.30 L691.00,574.30 L691.25,574.30 L691.50,574.29 L691.75,574.28 L692.00,574.26 L692.25,574.19 L692.50,574.06 L692.75,573.82 L693.00,573.43 L693.25,572.88 L693.50,572.18 L693.75,571.42 L694.00,570.77 L694.25,570.37 L694.40,570.30 L694.50,570.29 L694.75,570.56 L695.00,571.13 L695.25,571.85 L695.50,572.56 L695.75,573.15 L696.00,573.57 L696.25,573.84 L696.50,574.00 L696.75,574.08 L697.00,574.12 L697.25,574.15 L697.50,574.16 L697.75,574.16 L698.00,574.16 L698.25,574.15 L698.50,574.11 L698.75,574.03 L699.00,573.87 L699.25,573.60 L699.50,573.16 L699.75,572.49 L700.00,571.54 L700.25,570.27 L700.50,568.69 L700.75,566.86 L701.00,564.93 L701.25,563.08 L701.50,561.47 L701.75,560.11 L702.00,558.29 L702.25,553.49 L702.50,539.69 L702.75,506.70 L703.00,444.13 L703.25,351.97 L703.50,251.24 L703.60,217.10 L703.75,180.84 L703.90,168.40 L704.00,174.63 L704.05,182.11 L704.20,219.72 L704.25,236.44 L704.50,336.41 L704.75,433.93 L705.00,502.80 L705.25,538.74 L705.50,551.14 L705.75,555.81 L706.00,558.07 L706.25,560.23 L706.50,562.44 L706.75,564.49 L707.00,566.27 L707.25,567.76 L707.50,568.98 L707.75,569.97 L708.00,570.79 L708.25,571.45 L708.50,571.98 L708.75,572.42 L709.00,572.77 L709.25,573.05 L709.50,573.26 L709.75,573.40 L710.00,573.44 L710.25,573.36 L710.50,573.10 L710.75,572.58 L711.00,571.77 L711.25,570.63 L711.50,569.25 L711.75,567.78 L712.00,566.46 L712.25,565.54 L712.50,565.22 L712.75,565.39 L713.00,566.23 L713.25,567.53 L713.50,569.00 L713.75,570.42 L714.00,571.61 L714.25,572.51 L714.50,573.12 L714.75,573.51 L715.00,573.74 L715.25,573.87 L715.50,573.94 L715.75,573.99 L716.00,574.02 L716.25,574.04 L716.50,574.06 L716.75,574.08 L717.00,574.10 L717.25,574.12 L717.50,574.13 L717.75,574.14 L718.00,574.16 L718.25,574.17 L718.50,574.18 L718.75,574.19 L719.00,574.20 L719.25,574.20 L719.50,574.21 L719.75,574.22 L720.00,574.23 L720.25,574.23 L720.50,574.24 L720.75,574.24 L721.00,574.25 L721.25,574.25 L721.50,574.26 L721.75,574.26 L722.00,574.26 L722.25,574.27 L722.50,574.27 L722.75,574.27 L723.00,574.27 L723.25,574.27 L723.50,574.28 L723.75,574.28 L724.00,574.28 L724.25,574.28 L724.50,574.28 L724.75,574.28 L725.00,574.29 L725.25,574.29 L725.50,574.29 L725.75,574.29 L726.00,574.29 L726.25,574.29 L726.50,574.29 L726.75,574.29 L727.00,574.29 L727.25,574.29 L727.50,574.29 L727.75,574.29 L728.00,574.29 L728.25,574.30 L728.50,574.30 L728.75,574.30 L729.00,574.30 L729.25,574.30 L729.50,574.30 L729.75,574.30 L730.00,574.30 L730.25,574.30 L730.50,574.30 L730.75,574.30 L731.00,574.30 L731.25,574.30 L731.50,574.30 L731.75,574.30 L732.00,574.30 L732.25,574.30 L732.50,574.30 L732.75,574.30 L733.00,574.30 L733.25,574.30 L733.50,574.30 L733.75,574.30 L734.00,574.30 L734.25,574.30 L734.50,574.30 L734.75,574.30 L735.00,574.30 L735.25,574.30 L735.50,574.30 L735.75,574.30 L736.00,574.30 L736.25,574.30 L736.50,574.30 L736.75,574.30 L737.00,574.30 L737.25,574.30 L737.50,574.30 L737.75,574.30 L738.00,574.30 L738.25,574.30 L738.50,574.30 L738.75,574.30 L739.00,574.30 L739.25,574.30 L739.50,574.30 L739.75,574.30 L740.00,574.30 L740.25,574.30 L740.50,574.30 L740.75,574.30 L741.00,574.30 L741.25,574.30 L741.50,574.30 L741.75,574.30 L742.00,574.30 L742.25,574.30 L742.50,574.30 L742.75,574.30 L743.00,574.30 L743.25,574.30 L743.50,574.30 L743.75,574.30 L744.00,574.30 L744.25,574.29 L744.50,574.28 L744.75,574.26 L745.00,574.21 L745.25,574.12 L745.50,573.96 L745.75,573.68 L746.00,573.24 L746.25,572.57 L746.50,571.61 L746.75,570.34 L747.00,568.76 L747.25,566.94 L747.50,565.02 L747.75,563.17 L748.00,561.57 L748.25,560.21 L748.50,558.40 L748.75,553.62 L749.00,539.88 L749.25,507.04 L749.50,444.76 L749.75,353.02 L750.00,252.76 L750.10,218.77 L750.25,182.68 L750.40,170.30 L750.50,176.42 L750.55,183.86 L750.70,221.24 L750.75,237.85 L751.00,337.14 L751.25,433.74 L751.50,501.36 L751.75,535.52 L752.00,545.65 L752.25,546.92 L752.50,546.25 L752.75,546.38 L753.00,547.33 L753.25,548.64 L753.50,550.02 L753.75,551.33 L754.00,552.53 L754.25,553.62 L754.50,554.60 L754.75,555.50 L755.00,556.33 L755.25,557.11 L755.50,557.83 L755.75,558.52 L756.00,559.17 L756.25,559.80 L756.50,560.41 L756.75,561.00 L757.00,561.58 L757.25,562.15 L757.50,562.71 L757.75,563.26 L758.00,563.80 L758.25,564.34 L758.50,564.88 L758.75,565.41 L759.00,565.94 L759.25,566.47 L759.50,567.00 L759.75,567.52 L760.00,568.05 L760.25,568.57 L760.50,569.09 L760.75,569.61 L761.00,570.13 L761.25,570.63 L761.50,571.11 L761.75,571.55 L762.00,571.90 L762.25,572.13 L762.50,572.19 L762.75,572.09 L763.00,571.87 L763.25,571.14 L763.50,570.57 L763.75,570.31 L763.80,570.30 L764.00,570.35 L764.25,570.76 L764.50,571.40 L764.75,572.13 L765.00,572.77 L765.25,573.25 L765.50,573.52 L765.75,573.58 L766.00,573.43 L766.25,573.04 L766.50,572.38 L766.75,571.40 L767.00,570.07 L767.25,568.39 L767.50,566.42 L767.75,564.29 L768.00,562.20 L768.25,560.36 L768.50,558.83 L768.75,557.05 L769.00,552.78 L769.25,540.26 L769.50,508.98 L769.75,446.78 L770.00,350.17 L770.25,237.36 L770.40,178.37 L770.50,148.94 L770.55,138.19 L770.70,124.40 L770.75,126.02 L770.85,139.43 L771.00,181.00 L771.25,286.69 L771.50,397.65 L771.75,479.82 L772.00,523.56 L772.25,537.26 L772.50,538.94 L772.75,538.65 L773.00,539.44 L773.25,541.31 L773.50,543.57 L773.75,545.78 L774.00,547.77 L774.25,549.50 L774.50,550.98 L774.75,552.26 L775.00,553.36 L775.25,554.31 L775.50,555.15 L775.75,555.89 L776.00,556.55 L776.25,557.14 L776.50,557.69 L776.75,558.19 L777.00,558.65 L777.25,559.09 L777.50,559.51 L777.75,559.90 L778.00,560.29 L778.25,560.66 L778.50,561.02 L778.75,561.37 L779.00,561.72 L779.25,562.06 L779.50,562.39 L779.75,562.73 L780.00,563.06 L780.25,563.39 L780.50,563.71 L780.75,564.04 L781.00,564.36 L781.25,564.68 L781.50,565.00 L781.75,565.32 L782.00,565.64 L782.25,565.96 L782.50,566.28 L782.75,566.60 L783.00,566.92 L783.25,567.24 L783.50,567.56 L783.75,567.88 L784.00,568.20 L784.25,568.51 L784.50,568.83 L784.75,569.15 L785.00,569.47 L785.25,569.78 L785.50,570.10 L785.75,570.41 L786.00,570.71 L786.25,570.98 L786.50,571.20 L786.75,571.35 L787.00,571.37 L787.25,571.21 L787.50,570.86 L787.75,570.31 L788.00,569.64 L788.25,568.98 L788.50,568.48 L788.75,568.32 L788.90,568.30 L789.00,568.28 L789.25,568.58 L789.50,569.27 L789.75,570.20 L790.00,571.18 L790.25,572.07 L790.50,572.78 L790.75,573.30 L791.00,573.64 L791.25,573.85 L791.50,573.97 L791.75,574.04 L792.00,574.08 L792.25,574.10 L792.50,574.12 L792.75,574.14 L793.00,574.15 L793.25,574.16 L793.50,574.17 L793.75,574.18 L794.00,574.19 L794.25,574.19 L794.50,574.18 L794.75,574.16 L795.00,574.10 L795.25,573.99 L795.50,573.80 L795.75,573.46 L796.00,572.93 L796.25,572.15 L796.50,571.07 L796.75,569.66 L797.00,567.96 L797.25,566.06 L797.50,564.13 L797.75,562.35 L798.00,560.86 L798.25,559.46 L798.50,556.90 L798.75,549.43 L799.00,529.26 L799.25,485.19 L799.50,409.41 L799.75,309.53 L800.00,215.43 L800.15,179.00 L800.25,167.74 L800.30,166.50 L800.45,180.09 L800.50,190.27 L800.60,217.76 L800.75,272.30 L801.00,375.65 L801.25,462.68 L801.50,515.63 L801.75,536.83 L802.00,540.15 L802.25,540.03 L802.50,540.41 L802.75,542.06 L803.00,544.31 L803.25,546.61 L803.50,548.72 L803.75,550.55 L804.00,552.11 L804.25,553.44 L804.50,554.58 L804.75,555.55 L805.00,556.39 L805.25,557.12 L805.50,557.76 L805.75,558.33 L806.00,558.84 L806.25,559.30 L806.50,559.73 L806.75,560.12 L807.00,560.49 L807.25,560.83 L807.50,561.17 L807.75,561.48 L808.00,561.79 L808.25,562.09 L808.50,562.38 L808.75,562.66 L809.00,562.94 L809.25,563.22 L809.50,563.49 L809.75,563.76 L810.00,564.02 L810.25,564.29 L810.50,564.55 L810.75,564.82 L811.00,565.08 L811.25,565.34 L811.50,565.60 L811.75,565.86 L812.00,566.12 L812.25,566.38 L812.50,566.64 L812.75,566.90 L813.00,567.16 L813.25,567.42 L813.50,567.68 L813.75,567.94 L814.00,568.20 L814.25,568.46 L814.50,568.72 L814.75,568.97 L815.00,569.23 L815.25,569.49 L815.50,569.75 L815.75,570.01 L816.00,570.27 L816.25,570.53 L816.50,570.78 L816.75,571.04 L817.00,571.30 L817.25,571.56 L817.50,571.82 L817.75,572.08 L818.00,572.34 L818.25,572.59 L818.50,572.85 L818.75,573.11 L819.00,573.37 L819.25,573.63 L819.50,573.89 L819.75,574.14 L820.00,574.30 L820.25,574.29 L820.50,574.27 L820.75,574.24 L821.00,574.18 L821.25,574.07 L821.50,573.87 L821.75,573.54 L822.00,573.03 L822.25,572.26 L822.50,571.20 L822.75,569.83 L823.00,568.17 L823.25,566.33 L823.50,564.44 L823.75,562.71 L824.00,561.26 L824.25,559.89 L824.50,557.40 L824.75,550.14 L825.00,530.51 L825.25,487.65 L825.50,413.95 L825.75,316.81 L826.00,225.29 L826.15,189.86 L826.25,178.91 L826.30,177.70 L826.45,191.00 L826.50,200.92 L826.60,227.69 L826.75,280.83 L827.00,381.64 L827.25,466.88 L827.50,519.55 L827.75,542.02 L828.00,547.10 L828.25,547.70 L828.50,548.03 L828.75,549.18 L829.00,550.79 L829.25,552.46 L829.50,554.01 L829.75,555.37 L830.00,556.54 L830.25,557.55 L830.50,558.42 L830.75,559.17 L831.00,559.83 L831.25,560.40 L831.50,560.92 L831.75,561.38 L832.00,561.79 L832.25,562.16 L832.50,562.48 L832.75,562.76 L833.00,562.98 L833.25,563.13 L833.50,563.21 L833.75,563.20 L834.00,563.12 L834.25,562.95 L834.50,562.73 L834.75,562.49 L835.00,562.28 L835.25,562.14 L835.50,562.12 L835.75,562.25 L835.80,562.30 L836.00,562.49 L836.25,562.90 L836.50,563.47 L836.75,564.15 L837.00,564.89 L837.25,565.63 L837.50,566.34 L837.75,567.00 L838.00,567.57 L838.25,568.08 L838.50,568.51 L838.75,568.89 L839.00,569.23 L839.25,569.54 L839.50,569.82 L839.75,570.09 L840.00,570.36 L840.25,570.61 L840.50,570.87 L840.75,571.12 L841.00,571.38 L841.25,571.63 L841.50,571.88 L841.75,572.13 L842.00,572.38 L842.25,572.63 L842.50,572.88 L842.75,573.13 L843.00,573.38 L843.25,573.63 L843.50,573.87 L843.75,574.12 L844.00,574.26 L844.25,574.23 L844.50,574.19 L844.75,574.10 L845.00,573.95 L845.25,573.68 L845.50,573.24 L845.75,572.59 L846.00,571.65 L846.25,570.40 L846.50,568.85 L846.75,567.07 L847.00,565.18 L847.25,563.36 L847.50,561.80 L847.75,560.46 L848.00,558.68 L848.25,553.99 L848.50,540.51 L848.75,508.26 L849.00,447.13 L849.25,357.08 L849.50,258.65 L849.60,225.29 L849.75,189.86 L849.90,177.70 L850.00,183.77 L850.05,191.08 L850.20,227.82 L850.25,244.14 L850.50,341.78 L850.75,436.97 L851.00,504.07 L851.25,538.85 L851.50,550.50 L851.75,551.97 L852.00,550.84 L852.25,550.13 L852.50,550.19 L852.75,550.72 L853.00,551.45 L853.25,552.26 L853.50,553.08 L853.75,553.89 L854.00,554.68 L854.25,555.45 L854.50,556.21 L854.75,556.95 L855.00,557.68 L855.25,558.41 L855.50,559.12 L855.75,559.83 L856.00,560.54 L856.25,561.24 L856.50,561.94 L856.75,562.63 L857.00,563.32 L857.25,564.02 L857.50,564.71 L857.75,565.39 L858.00,566.08 L858.25,566.77 L858.50,567.45 L858.75,568.14 L859.00,568.82 L859.25,569.51 L859.50,570.19 L859.75,570.86 L860.00,571.53 L860.25,572.17 L860.50,572.77 L860.75,573.31 L861.00,573.75 L861.25,573.34 L861.50,572.71 L861.75,571.81 L862.00,570.60 L862.25,569.07 L862.50,567.28 L862.75,565.35 L863.00,563.46 L863.25,561.79 L863.50,560.40 L863.75,558.79 L864.00,554.93 L864.25,543.61 L864.50,515.36 L864.75,459.17 L865.00,371.92 L865.25,270.03 L865.40,216.75 L865.50,190.17 L865.55,180.45 L865.70,168.00 L865.75,169.45 L865.85,181.55 L866.00,219.09 L866.25,314.51 L866.50,414.65 L866.75,488.72 L867.00,527.95 L867.25,539.94 L867.50,541.16 L867.75,540.83 L868.00,541.70 L868.25,543.70 L868.50,546.14 L868.75,548.58 L869.00,550.86 L869.25,552.93 L869.50,554.79 L869.75,556.48 L870.00,558.02 L870.25,559.44 L870.50,560.76 L870.75,561.99 L871.00,563.16 L871.25,564.28 L871.50,565.35 L871.75,566.39 L872.00,567.40 L872.25,568.38 L872.50,569.35 L872.75,570.30 L873.00,571.23 L873.25,572.15 L873.50,573.03 L873.75,573.86 L874.00,573.89 L874.25,573.58 L874.50,573.03 L874.75,572.18 L875.00,571.05 L875.25,569.75 L875.50,568.51 L875.75,567.61 L876.00,567.28 L876.25,567.48 L876.50,568.30 L876.75,569.49 L877.00,570.77 L877.25,571.90 L877.50,572.76 L877.75,573.33 L878.00,573.68 L878.25,573.87 L878.50,573.97 L878.75,574.02 L879.00,574.05 L879.25,574.07 L879.50,574.09 L879.75,574.10 L880.00,574.12 L880.25,574.13 L880.50,574.15 L880.75,574.16 L881.00,574.17 L881.25,574.18 L881.50,574.19 L881.75,574.20 L882.00,574.21 L882.25,574.21 L882.50,574.22 L882.75,574.23 L883.00,574.23 L883.25,574.24 L883.50,574.24 L883.75,574.25 L884.00,574.25 L884.25,574.26 L884.50,574.26 L884.75,574.26 L885.00,574.27 L885.25,574.27 L885.50,574.27 L885.75,574.27 L886.00,574.28 L886.25,574.28 L886.50,574.28 L886.75,574.28 L887.00,574.28 L887.25,574.28 L887.50,574.28 L887.75,574.29 L888.00,574.29 L888.25,574.29 L888.50,574.29 L888.75,574.29 L889.00,574.29 L889.25,574.29 L889.50,574.29 L889.75,574.29 L890.00,574.29 L890.25,574.29 L890.50,574.29 L890.75,574.29 L891.00,574.30 L891.25,574.30 L891.50,574.30 L891.75,574.30 L892.00,574.30 L892.25,574.30 L892.50,574.30 L892.75,574.30 L893.00,574.30 L893.25,574.30 L893.50,574.30 L893.75,574.30 L894.00,574.29 L894.25,574.29 L894.50,574.27 L894.75,574.24 L895.00,574.17 L895.25,574.05 L895.50,573.84 L895.75,573.49 L896.00,572.93 L896.25,572.11 L896.50,570.97 L896.75,569.49 L897.00,567.71 L897.25,565.72 L897.50,563.69 L897.75,561.83 L898.00,560.27 L898.25,558.80 L898.50,556.11 L898.75,548.30 L899.00,527.19 L899.25,481.07 L899.50,401.78 L899.75,297.27 L900.00,198.80 L900.15,160.68 L900.25,148.90 L900.30,147.60 L900.45,161.94 L900.50,172.61 L900.60,201.43 L900.75,258.63 L901.00,367.17 L901.25,459.08 L901.50,516.10 L901.75,540.85 L902.00,546.74 L902.25,547.15 L902.50,547.03 L902.75,547.73 L903.00,548.97 L903.25,550.36 L903.50,551.69 L903.75,552.89 L904.00,553.94 L904.25,554.86 L904.50,555.67 L904.75,556.38 L905.00,557.01 L905.25,557.59 L905.50,558.10 L905.75,558.58 L906.00,559.03 L906.25,559.44 L906.50,559.83 L906.75,560.21 L907.00,560.57 L907.25,560.91 L907.50,561.25 L907.75,561.58 L908.00,561.90 L908.25,562.22 L908.50,562.54 L908.75,562.85 L909.00,563.15 L909.25,563.46 L909.50,563.76 L909.75,564.06 L910.00,564.36 L910.25,564.66 L910.50,564.96 L910.75,565.26 L911.00,565.56 L911.25,565.85 L911.50,566.15 L911.75,566.45 L912.00,566.74 L912.25,567.04 L912.50,567.33 L912.75,567.63 L913.00,567.92 L913.25,568.22 L913.50,568.52 L913.75,568.81 L914.00,569.11 L914.25,569.40 L914.50,569.70 L914.75,569.99 L915.00,570.29 L915.25,570.58 L915.50,570.88 L915.75,571.17 L916.00,571.47 L916.25,571.76 L916.50,572.06 L916.75,572.35 L917.00,572.65 L917.25,572.94 L917.50,573.24 L917.75,573.53 L918.00,573.83 L918.25,574.12 L918.50,574.29 L918.75,574.28 L919.00,574.25 L919.25,574.19 L919.50,574.08 L919.75,573.88 L920.00,573.55 L920.25,573.02 L920.50,572.24 L920.75,571.13 L921.00,569.68 L921.25,567.91 L921.50,565.90 L921.75,563.80 L922.00,561.84 L922.25,560.17 L922.50,558.69 L922.75,556.39 L923.00,549.93 L923.25,531.85 L923.50,490.53 L923.75,415.88 L924.00,311.76 L924.25,205.75 L924.30,188.15 L924.45,148.95 L924.50,141.36 L924.60,135.50 L924.75,150.15 L924.90,190.71 L925.00,228.43 L925.25,338.82 L925.50,438.51 L925.75,503.54 L926.00,532.91 L926.25,539.20 L926.50,539.14 L926.75,538.63 L927.00,539.46 L927.25,541.18 L927.50,543.15 L927.75,545.07 L928.00,546.79 L928.25,548.31 L928.50,549.63 L928.75,550.79 L929.00,551.81 L929.25,552.72 L929.50,553.53 L929.75,554.27 L930.00,554.94 L930.25,555.56 L930.50,556.15 L930.75,556.70 L931.00,557.22 L931.25,557.72 L931.50,558.20 L931.75,558.67 L932.00,559.13 L932.25,559.58 L932.50,560.02 L932.75,560.45 L933.00,560.88 L933.25,561.30 L933.50,561.72 L933.75,562.14 L934.00,562.56 L934.25,562.97 L934.50,563.38 L934.75,563.79 L935.00,564.20 L935.25,564.61 L935.50,565.02 L935.75,565.43 L936.00,565.84 L936.25,566.25 L936.50,566.66 L936.75,567.06 L937.00,567.47 L937.25,567.88 L937.50,568.28 L937.75,568.69 L938.00,569.10 L938.25,569.50 L938.50,569.91 L938.75,570.32 L939.00,570.72 L939.25,571.13 L939.50,571.54 L939.75,571.94 L940.00,572.35 L940.25,572.76 L940.50,573.16 L940.75,573.57 L941.00,573.97 L941.25,574.30 L941.50,574.30 L941.75,574.30 L942.00,574.30 L942.25,574.30 L942.50,574.30 L942.75,574.30 L943.00,574.30 L943.25,574.30 L943.50,574.30 L943.75,574.30 L944.00,574.30 L944.25,574.30 L944.50,574.30 L944.75,574.30 L945.00,574.30 L945.25,574.30 L945.50,574.30 L945.75,574.30 L946.00,574.30 L946.25,574.30 L946.50,574.30 L946.75,574.30 L947.00,574.30 L947.25,574.30 L947.50,574.30 L947.75,574.30 L948.00,574.30 L948.25,574.30 L948.50,574.30 L948.75,574.30 L949.00,574.30 L949.25,574.30 L949.50,574.30 L949.75,574.30 L950.00,574.30 L950.25,574.30 L950.50,574.30 L950.75,574.30 L951.00,574.30 L951.25,574.30 L951.50,574.30 L951.75,574.30 L952.00,574.30 L952.25,574.30 L952.50,574.30 L952.75,574.30 L953.00,574.30 L953.25,574.30 L953.50,574.30 L953.75,574.30 L954.00,574.30 L954.25,574.30 L954.50,574.30 L954.75,574.30 L955.00,574.30 L955.25,574.30 L955.50,574.30 L955.75,574.30 L956.00,574.30 L956.25,574.30 L956.50,574.30 L956.75,574.30 L957.00,574.30 L957.25,574.30 L957.50,574.30 L957.75,574.30 L958.00,574.30 L958.25,574.30 L958.50,574.30 L958.75,574.30 L959.00,574.30 L959.25,574.30 L959.50,574.30 L959.75,574.30 L960.00,574.30 L960.25,574.30 L960.50,574.30 L960.75,574.30 L961.00,574.30 L961.25,574.30 L961.50,574.30 L961.75,574.30 L962.00,574.30 L962.25,574.30 L962.50,574.30 L962.75,574.30 L963.00,574.30 L963.25,574.30 L963.50,574.30 L963.75,574.30 L964.00,574.30 L964.25,574.30 L964.50,574.30 L964.75,574.30 L965.00,574.30 L965.25,574.30 L965.50,574.30 L965.75,574.30 L966.00,574.30 L966.25,574.30 L966.50,574.29 L966.75,574.28 L967.00,574.25 L967.25,574.20 L967.50,574.10 L967.75,573.92 L968.00,573.63 L968.25,573.15 L968.50,572.45 L968.75,571.45 L969.00,570.15 L969.25,568.55 L969.50,566.74 L969.75,564.86 L970.00,563.09 L970.25,561.59 L970.50,560.27 L970.75,558.20 L971.00,552.39 L971.25,536.14 L971.50,498.98 L971.75,431.87 L972.00,338.26 L972.25,242.96 L972.30,227.13 L972.45,191.89 L972.50,185.07 L972.60,179.80 L972.75,193.04 L972.90,229.55 L973.00,263.50 L973.25,362.94 L973.50,452.98 L973.75,512.26 L974.00,540.01 L974.25,547.37 L974.50,548.72 L974.75,549.12 L975.00,550.24 L975.25,551.86 L975.50,553.59 L975.75,555.20 L976.00,556.63 L976.25,557.86 L976.50,558.93 L976.75,559.86 L977.00,560.66 L977.25,561.37 L977.50,561.99 L977.75,562.55 L978.00,563.06 L978.25,563.53 L978.50,563.96 L978.75,564.36 L979.00,564.73 L979.25,565.09 L979.50,565.44 L979.75,565.77 L980.00,566.09 L980.25,566.41 L980.50,566.71 L980.75,567.01 L981.00,567.31 L981.25,567.61 L981.50,567.90 L981.75,568.19 L982.00,568.47 L982.25,568.76 L982.50,569.04 L982.75,569.32 L983.00,569.61 L983.25,569.89 L983.50,570.17 L983.75,570.45 L984.00,570.73 L984.25,571.01 L984.50,571.29 L984.75,571.57 L985.00,571.85 L985.25,572.13 L985.50,572.40 L985.75,572.68 L986.00,572.96 L986.25,573.24 L986.50,573.52 L986.75,573.80 L987.00,574.08 L987.25,574.30 L987.50,574.30 L987.75,574.30 L988.00,574.30 L988.25,574.30 L988.50,574.30 L988.75,574.30 L989.00,574.30 L989.25,574.30 L989.50,574.30 L989.75,574.30 L990.00,574.30 L990.25,574.30 L990.50,574.30 L990.75,574.30 L991.00,574.30 L991.25,574.30 L991.50,574.30 L991.75,574.30 L992.00,574.30 L992.25,574.30 L992.50,574.30 L992.75,574.30 L993.00,574.30 L993.25,574.30 L993.50,574.30 L993.75,574.30 L994.00,574.30 L994.25,574.30 L994.50,574.30 L994.75,574.30 L995.00,574.30 L995.25,574.30 L995.50,574.30 L995.75,574.30 L996.00,574.30 L996.25,574.30 L996.50,574.30 L996.75,574.30 L997.00,574.30 L997.25,574.30 L997.50,574.30 L997.75,574.30 L998.00,574.30 L998.25,574.30 L998.50,574.30 L998.75,574.30 L999.00,574.30 L999.25,574.30 L999.50,574.30 L999.75,574.30 L1000.00,574.30 L1000.25,574.30 L1000.50,574.30 L1000.75,574.30 L1001.00,574.30 L1001.25,574.30 L1001.50,574.30 L1001.75,574.30 L1002.00,574.30 L1002.25,574.30 L1002.50,574.30 L1002.75,574.30 L1003.00,574.30 L1003.25,574.30 L1003.50,574.30 L1003.75,574.30 L1004.00,574.30 L1004.25,574.30 L1004.50,574.30 L1004.75,574.30 L1005.00,574.30 L1005.25,574.30 L1005.50,574.30 L1005.75,574.30 L1006.00,574.30 L1006.25,574.30 L1006.50,574.30 L1006.75,574.30 L1007.00,574.30 L1007.25,574.30 L1007.50,574.30 L1007.75,574.30 L1008.00,574.30 L1008.25,574.30 L1008.50,574.30 L1008.75,574.30 L1009.00,574.30 L1009.25,574.30 L1009.50,574.30 L1009.75,574.30 L1010.00,574.30 L1010.25,574.30 L1010.50,574.30 L1010.75,574.30 L1011.00,574.30 L1011.25,574.30 L1011.50,574.30 L1011.75,574.30 L1012.00,574.30 L1012.25,574.30 L1012.50,574.30 L1012.75,574.30 L1013.00,574.30 L1013.25,574.30 L1013.50,574.30 L1013.75,574.30 L1014.00,574.30 L1014.25,574.30 L1014.50,574.30 L1014.75,574.30 L1015.00,574.30 L1015.25,574.30 L1015.50,574.30 L1015.75,574.30 L1016.00,574.30 L1016.25,574.30 L1016.50,574.30 L1016.75,574.30 L1017.00,574.30 L1017.25,574.30 L1017.50,574.30 L1017.75,574.30 L1018.00,574.30 L1018.25,574.30 L1018.50,574.30 L1018.75,574.30 L1019.00,574.30 L1019.25,574.30 L1019.50,574.30 L1019.75,574.30 L1020.00,574.30 L1020.25,574.30 L1020.50,574.30 L1020.75,574.30 L1021.00,574.30 L1021.25,574.30 L1021.50,574.30 L1021.75,574.30 L1022.00,574.30 L1022.25,574.30 L1022.50,574.30 L1022.75,574.30 L1023.00,574.30 L1023.25,574.30 L1023.50,574.30 L1023.75,574.30 L1024.00,574.30 L1024.25,574.30 L1024.50,574.30 L1024.75,574.30 L1025.00,574.30 L1025.25,574.30 L1025.50,574.30 L1025.75,574.30 L1026.00,574.30 L1026.25,574.30 L1026.50,574.30 L1026.75,574.30 L1027.00,574.30 L1027.25,574.30 L1027.50,574.30 L1027.75,574.30 L1028.00,574.30 L1028.25,574.30 L1028.50,574.30 L1028.75,574.30 L1029.00,574.30 L1029.25,574.30 L1029.50,574.30 L1029.75,574.30 L1030.00,574.30 L1030.25,574.30 L1030.50,574.30 L1030.75,574.30 L1031.00,574.30 L1031.25,574.30 L1031.50,574.30 L1031.75,574.30 L1032.00,574.30 L1032.25,574.30 L1032.50,574.30 L1032.75,574.30 L1033.00,574.30 L1033.25,574.30 L1033.50,574.30 L1033.75,574.30 L1034.00,574.30 L1034.25,574.30 L1034.50,574.30 L1034.75,574.30 L1035.00,574.30" fill="none" stroke="#2424d4" stroke-width="1.65" stroke-linejoin="round"/>
<circle cx="158.7" cy="469.0" r="2.1" fill="#000"/>
<text transform="translate(161.3,464.2) rotate(-90)" font-size="11" fill="#1c1c1c" stroke="#1c1c1c" stroke-width="0.35">Q-64 (DNA)</text>
<circle cx="169.5" cy="534.6" r="2.1" fill="#000"/>
<text transform="translate(172.1,529.8) rotate(-90)" font-size="11" fill="#1c1c1c" stroke="#1c1c1c" stroke-width="0.35">Q-70 (DNA)</text>
<circle cx="185.8" cy="546.2" r="2.1" fill="#000"/>
<text transform="translate(188.4,541.4) rotate(-90)" font-size="11" fill="#1c1c1c" stroke="#1c1c1c" stroke-width="0.35">Q-76 (DNA)</text>
<circle cx="202.4" cy="540.0" r="2.1" fill="#000"/>
<text transform="translate(205.0,535.2) rotate(-90)" font-size="11" fill="#1c1c1c" stroke="#1c1c1c" stroke-width="0.35">Q-82 (DNA)</text>
<circle cx="221.8" cy="241.8" r="2.1" fill="#000"/>
<text transform="translate(224.4,237.0) rotate(-90)" font-size="11" fill="#1c1c1c" stroke="#1c1c1c" stroke-width="0.35">CARM1-1 (DD)</text>
<circle cx="234.0" cy="251.0" r="2.1" fill="#000"/>
<text transform="translate(236.6,246.2) rotate(-90)" font-size="11" fill="#1c1c1c" stroke="#1c1c1c" stroke-width="0.35">IL1B-4 (Lig)</text>
<circle cx="248.4" cy="90.0" r="2.1" fill="#000"/>
<text transform="translate(251.0,85.2) rotate(-90)" font-size="11" fill="#1c1c1c" stroke="#1c1c1c" stroke-width="0.35">JPH3-up (DD)</text>
<circle cx="259.6" cy="128.0" r="2.1" fill="#000"/>
<text transform="translate(262.2,123.2) rotate(-90)" font-size="11" fill="#1c1c1c" stroke="#1c1c1c" stroke-width="0.35">AMOT-4 (XC)</text>
<circle cx="400.6" cy="155.4" r="2.1" fill="#000"/>
<text transform="translate(403.2,150.6) rotate(-90)" font-size="11" fill="#1c1c1c" stroke="#1c1c1c" stroke-width="0.35">Reference</text>
<circle cx="430.5" cy="200.5" r="2.1" fill="#000"/>
<text transform="translate(433.1,195.7) rotate(-90)" font-size="11" fill="#1c1c1c" stroke="#1c1c1c" stroke-width="0.35">GBA-9 (WT) 55bp del)</text>
<circle cx="453.4" cy="120.6" r="2.1" fill="#000"/>
<text transform="translate(456.0,115.8) rotate(-90)" font-size="11" fill="#1c1c1c" stroke="#1c1c1c" stroke-width="0.35">Reference</text>
<circle cx="473.4" cy="103.0" r="2.1" fill="#000"/>
<text transform="translate(476.0,98.2) rotate(-90)" font-size="11" fill="#1c1c1c" stroke="#1c1c1c" stroke-width="0.35">Reference</text>
<circle cx="491.3" cy="91.2" r="2.1" fill="#000"/>
<text transform="translate(493.9,86.4) rotate(-90)" font-size="11" fill="#1c1c1c" stroke="#1c1c1c" stroke-width="0.35">GBA-3</text>
<circle cx="513.3" cy="172.9" r="2.1" fill="#000"/>
<text transform="translate(515.9,168.1) rotate(-90)" font-size="11" fill="#1c1c1c" stroke="#1c1c1c" stroke-width="0.35">Reference</text>
<circle cx="532.3" cy="213.0" r="2.1" fill="#000"/>
<text transform="translate(534.9,208.2) rotate(-90)" font-size="11" fill="#1c1c1c" stroke="#1c1c1c" stroke-width="0.35">Reference</text>
<circle cx="560.3" cy="117.5" r="2.1" fill="#000"/>
<text transform="translate(562.9,112.7) rotate(-90)" font-size="11" fill="#1c1c1c" stroke="#1c1c1c" stroke-width="0.35">GBA-4</text>
<circle cx="579.3" cy="88.5" r="2.1" fill="#000"/>
<text transform="translate(581.9,83.7) rotate(-90)" font-size="11" fill="#1c1c1c" stroke="#1c1c1c" stroke-width="0.35">GBA-Up</text>
<circle cx="607.1" cy="56.9" r="2.1" fill="#000"/>
<text transform="translate(609.7,52.1) rotate(-90)" font-size="11" fill="#1c1c1c" stroke="#1c1c1c" stroke-width="0.35">CKS1B-2</text>
<circle cx="630.6" cy="101.1" r="2.1" fill="#000"/>
<text transform="translate(633.2,96.3) rotate(-90)" font-size="11" fill="#1c1c1c" stroke="#1c1c1c" stroke-width="0.35">Reference</text>
<circle cx="654.2" cy="103.3" r="2.1" fill="#000"/>
<text transform="translate(656.8,98.5) rotate(-90)" font-size="11" fill="#1c1c1c" stroke="#1c1c1c" stroke-width="0.35">GBA-7</text>
<circle cx="703.9" cy="167.6" r="2.1" fill="#000"/>
<text transform="translate(706.5,162.8) rotate(-90)" font-size="11" fill="#1c1c1c" stroke="#1c1c1c" stroke-width="0.35">Reference</text>
<circle cx="750.4" cy="169.5" r="2.1" fill="#000"/>
<text transform="translate(753.0,164.7) rotate(-90)" font-size="11" fill="#1c1c1c" stroke="#1c1c1c" stroke-width="0.35">GBA-1</text>
<circle cx="770.7" cy="123.6" r="2.1" fill="#000"/>
<text transform="translate(773.3,118.8) rotate(-90)" font-size="11" fill="#1c1c1c" stroke="#1c1c1c" stroke-width="0.35">GBA-8</text>
<circle cx="800.3" cy="165.7" r="2.1" fill="#000"/>
<text transform="translate(802.9,160.9) rotate(-90)" font-size="11" fill="#1c1c1c" stroke="#1c1c1c" stroke-width="0.35">PKLR-12</text>
<circle cx="826.3" cy="176.9" r="2.1" fill="#000"/>
<text transform="translate(828.9,172.1) rotate(-90)" font-size="11" fill="#1c1c1c" stroke="#1c1c1c" stroke-width="0.35">Reference</text>
<circle cx="849.9" cy="176.9" r="2.1" fill="#000"/>
<text transform="translate(852.5,172.1) rotate(-90)" font-size="11" fill="#1c1c1c" stroke="#1c1c1c" stroke-width="0.35">Reference</text>
<circle cx="865.7" cy="167.2" r="2.1" fill="#000"/>
<text transform="translate(868.3,162.4) rotate(-90)" font-size="11" fill="#1c1c1c" stroke="#1c1c1c" stroke-width="0.35">GBA-6</text>
<circle cx="900.3" cy="146.8" r="2.1" fill="#000"/>
<text transform="translate(902.9,142.0) rotate(-90)" font-size="11" fill="#1c1c1c" stroke="#1c1c1c" stroke-width="0.35">CLK2-1</text>
<circle cx="924.6" cy="134.7" r="2.1" fill="#000"/>
<text transform="translate(927.2,129.9) rotate(-90)" font-size="11" fill="#1c1c1c" stroke="#1c1c1c" stroke-width="0.35">Reference</text>
<circle cx="972.6" cy="179.0" r="2.1" fill="#000"/>
<text transform="translate(975.2,174.2) rotate(-90)" font-size="11" fill="#1c1c1c" stroke="#1c1c1c" stroke-width="0.35">Reference</text>
<rect x="83.2" y="56" width="11.9" height="529.5" rx="1.2" fill="#1c1c1c"/>
<rect x="84.5" y="57.3" width="9.2" height="8.6" fill="#ececec"/>
<circle cx="88.9" cy="61.5" r="2.3" fill="#9a9a9a" stroke="#3a3a3a" stroke-width="1.2"/>
<rect x="84.5" y="66.9" width="9.2" height="8.7" fill="#f0f0f0"/>
<rect x="84.5" y="66.9" width="1.3" height="8.7" fill="#c890a0"/>
<path d="M87.4,72.5 L90.8,72.5 L89.1,69.2 Z" fill="#000"/>
<rect x="84.5" y="76.8" width="9" height="93" fill="#d8d8d8"/>
<rect x="86.3" y="76.8" width="5.2" height="93" fill="#e8e8e8"/>
<rect x="93.3" y="76.8" width="1.8" height="93" fill="#8a8a8a"/>
<rect x="84.4" y="169.8" width="8.6" height="340.2" fill="#a4a4a4"/>
<rect x="84.4" y="169.8" width="0.8" height="340.2" fill="#777"/>
<rect x="85.2" y="169.8" width="1.8" height="340.2" fill="#c2c2c2"/>
<rect x="84.4" y="510" width="8.6" height="53.5" fill="#c8c2cc"/>
<rect x="86.5" y="510" width="4" height="53.5" fill="#d4d0c0"/>
<rect x="84.5" y="564.4" width="8.6" height="8.8" fill="#e4dce8"/>
<path d="M87.2,566.8 L91,566.8 L89.1,570.6 Z" fill="#000"/>
<rect x="83.2" y="573.6" width="953.2" height="12.2" rx="1.2" fill="#141438"/>
<rect x="83.2" y="573.6" width="11" height="12.2" rx="1.2" fill="#101010"/>
<rect x="84.6" y="575.4" width="8.6" height="8.6" fill="#e8e8f0"/>
<rect x="95.3" y="575.4" width="8.4" height="8.6" fill="#dcd8ec"/>
<circle cx="99.8" cy="579.4" r="2.6" fill="#7a9a3a" stroke="#2a2a2a" stroke-width="1"/>
<rect x="104.8" y="575.4" width="8.6" height="8.6" fill="#ece4ec"/>
<path d="M108.2,579.5 L110.8,576.8 L110.8,582.2 Z" fill="#000"/>
<rect x="114.5" y="575.4" width="162.5" height="8.6" fill="#eceee4"/>
<rect x="114.5" y="577.8" width="162.5" height="2.6" fill="#e4d8e0"/>
<rect x="277" y="575.4" width="393.6" height="8.5" fill="#b8c4cc"/>
<rect x="277" y="577.8" width="393.6" height="3" fill="#c890a8"/>
<rect x="277" y="580.8" width="393.6" height="2.1" fill="#c8d0a0"/>
<rect x="277" y="583.6" width="394.5" height="2.2" fill="#02021a"/>
<rect x="670.6" y="575.4" width="1.2" height="10" fill="#0a0a20"/>
<rect x="671.8" y="575.4" width="355" height="8.8" fill="#f0f0f4"/>
<rect x="671.8" y="578" width="355" height="2.4" fill="#e8c8d8"/>
<rect x="671.8" y="580.4" width="355" height="2.2" fill="#ecead8"/>
<rect x="1026.8" y="575.4" width="8" height="8.4" fill="#f4f0f4"/>
<path d="M1028.8,577.6 L1028.8,581.6 L1032,579.6 Z" fill="#000"/>
<line x1="159.8" y1="585.5" x2="159.8" y2="591.5" stroke="#2a3a3a" stroke-width="1.2"/>
<text transform="translate(162.8,594) rotate(-90)" text-anchor="end" font-size="10" font-weight="bold" fill="#2a2a2a">64</text>
<line x1="171.5" y1="585.5" x2="171.5" y2="591.5" stroke="#2a3a3a" stroke-width="1.2"/>
<text transform="translate(174.5,594) rotate(-90)" text-anchor="end" font-size="10" font-weight="bold" fill="#2a2a2a">70</text>
<line x1="186.7" y1="585.5" x2="186.7" y2="591.5" stroke="#2a3a3a" stroke-width="1.2"/>
<text transform="translate(189.7,594) rotate(-90)" text-anchor="end" font-size="10" font-weight="bold" fill="#2a2a2a">76</text>
<line x1="205" y1="585.5" x2="205" y2="591.5" stroke="#2a3a3a" stroke-width="1.2"/>
<text transform="translate(208.0,594) rotate(-90)" text-anchor="end" font-size="10" font-weight="bold" fill="#2a2a2a">82</text>
<line x1="221.7" y1="585.5" x2="221.7" y2="591.5" stroke="#2a3a3a" stroke-width="1.2"/>
<text transform="translate(224.7,594) rotate(-90)" text-anchor="end" font-size="10" font-weight="bold" fill="#2a2a2a">88</text>
<line x1="236.4" y1="585.5" x2="236.4" y2="591.5" stroke="#2a3a3a" stroke-width="1.2"/>
<text transform="translate(239.4,594) rotate(-90)" text-anchor="end" font-size="10" font-weight="bold" fill="#2a2a2a">92</text>
<line x1="249.4" y1="585.5" x2="249.4" y2="591.5" stroke="#2a3a3a" stroke-width="1.2"/>
<text transform="translate(252.4,594) rotate(-90)" text-anchor="end" font-size="10" font-weight="bold" fill="#2a2a2a">96</text>
<line x1="263" y1="585.5" x2="263" y2="591.5" stroke="#2a3a3a" stroke-width="1.2"/>
<text transform="translate(266.0,594) rotate(-90)" text-anchor="end" font-size="10" font-weight="bold" fill="#2a2a2a">100</text>
<line x1="406.3" y1="585.5" x2="406.3" y2="591.5" stroke="#2a3a3a" stroke-width="1.2"/>
<text transform="translate(409.3,594) rotate(-90)" text-anchor="end" font-size="10" font-weight="bold" fill="#2a2a2a">155</text>
<line x1="430.9" y1="585.5" x2="430.9" y2="591.5" stroke="#2a3a3a" stroke-width="1.2"/>
<text transform="translate(433.9,594) rotate(-90)" text-anchor="end" font-size="10" font-weight="bold" fill="#2a2a2a">169</text>
<line x1="459.2" y1="585.5" x2="459.2" y2="591.5" stroke="#2a3a3a" stroke-width="1.2"/>
<text transform="translate(462.2,594) rotate(-90)" text-anchor="end" font-size="10" font-weight="bold" fill="#2a2a2a">175</text>
<line x1="478.1" y1="585.5" x2="478.1" y2="591.5" stroke="#2a3a3a" stroke-width="1.2"/>
<text transform="translate(481.1,594) rotate(-90)" text-anchor="end" font-size="10" font-weight="bold" fill="#2a2a2a">181</text>
<line x1="496.7" y1="585.5" x2="496.7" y2="591.5" stroke="#2a3a3a" stroke-width="1.2"/>
<text transform="translate(499.7,594) rotate(-90)" text-anchor="end" font-size="10" font-weight="bold" fill="#2a2a2a">189</text>
<line x1="517.8" y1="585.5" x2="517.8" y2="591.5" stroke="#2a3a3a" stroke-width="1.2"/>
<text transform="translate(520.8,594) rotate(-90)" text-anchor="end" font-size="10" font-weight="bold" fill="#2a2a2a">196</text>
<line x1="537.8" y1="585.5" x2="537.8" y2="591.5" stroke="#2a3a3a" stroke-width="1.2"/>
<text transform="translate(540.8,594) rotate(-90)" text-anchor="end" font-size="10" font-weight="bold" fill="#2a2a2a">203</text>
<line x1="565.3" y1="585.5" x2="565.3" y2="591.5" stroke="#2a3a3a" stroke-width="1.2"/>
<text transform="translate(568.3,594) rotate(-90)" text-anchor="end" font-size="10" font-weight="bold" fill="#2a2a2a">213</text>
<line x1="585" y1="585.5" x2="585" y2="591.5" stroke="#2a3a3a" stroke-width="1.2"/>
<text transform="translate(588.0,594) rotate(-90)" text-anchor="end" font-size="10" font-weight="bold" fill="#2a2a2a">220</text>
<line x1="613.9" y1="585.5" x2="613.9" y2="591.5" stroke="#2a3a3a" stroke-width="1.2"/>
<text transform="translate(616.9,594) rotate(-90)" text-anchor="end" font-size="10" font-weight="bold" fill="#2a2a2a">230</text>
<line x1="637.4" y1="585.5" x2="637.4" y2="591.5" stroke="#2a3a3a" stroke-width="1.2"/>
<text transform="translate(640.4,594) rotate(-90)" text-anchor="end" font-size="10" font-weight="bold" fill="#2a2a2a">238</text>
<line x1="661.1" y1="585.5" x2="661.1" y2="591.5" stroke="#2a3a3a" stroke-width="1.2"/>
<text transform="translate(664.1,594) rotate(-90)" text-anchor="end" font-size="10" font-weight="bold" fill="#2a2a2a">247</text>
<line x1="705.3" y1="585.5" x2="705.3" y2="591.5" stroke="#2a3a3a" stroke-width="1.2"/>
<text transform="translate(708.3,594) rotate(-90)" text-anchor="end" font-size="10" font-weight="bold" fill="#2a2a2a">265</text>
<line x1="753.2" y1="585.5" x2="753.2" y2="591.5" stroke="#2a3a3a" stroke-width="1.2"/>
<text transform="translate(756.2,594) rotate(-90)" text-anchor="end" font-size="10" font-weight="bold" fill="#2a2a2a">283</text>
<line x1="776.4" y1="585.5" x2="776.4" y2="591.5" stroke="#2a3a3a" stroke-width="1.2"/>
<text transform="translate(779.4,594) rotate(-90)" text-anchor="end" font-size="10" font-weight="bold" fill="#2a2a2a">290</text>
<line x1="808.1" y1="585.5" x2="808.1" y2="591.5" stroke="#2a3a3a" stroke-width="1.2"/>
<text transform="translate(811.1,594) rotate(-90)" text-anchor="end" font-size="10" font-weight="bold" fill="#2a2a2a">301</text>
<line x1="827" y1="585.5" x2="827" y2="591.5" stroke="#2a3a3a" stroke-width="1.2"/>
<text transform="translate(830.0,594) rotate(-90)" text-anchor="end" font-size="10" font-weight="bold" fill="#2a2a2a">310</text>
<line x1="853" y1="585.5" x2="853" y2="591.5" stroke="#2a3a3a" stroke-width="1.2"/>
<text transform="translate(856.0,594) rotate(-90)" text-anchor="end" font-size="10" font-weight="bold" fill="#2a2a2a">319</text>
<line x1="867.3" y1="585.5" x2="867.3" y2="591.5" stroke="#2a3a3a" stroke-width="1.2"/>
<text transform="translate(870.3,594) rotate(-90)" text-anchor="end" font-size="10" font-weight="bold" fill="#2a2a2a">325</text>
<line x1="905.7" y1="585.5" x2="905.7" y2="591.5" stroke="#2a3a3a" stroke-width="1.2"/>
<text transform="translate(908.7,594) rotate(-90)" text-anchor="end" font-size="10" font-weight="bold" fill="#2a2a2a">337</text>
<line x1="930.6" y1="585.5" x2="930.6" y2="591.5" stroke="#2a3a3a" stroke-width="1.2"/>
<text transform="translate(933.6,594) rotate(-90)" text-anchor="end" font-size="10" font-weight="bold" fill="#2a2a2a">346</text>
<line x1="953.6" y1="585.5" x2="953.6" y2="591.5" stroke="#2a3a3a" stroke-width="1.2"/>
<text transform="translate(956.6,594) rotate(-90)" text-anchor="end" font-size="10" font-weight="bold" fill="#2a2a2a">355</text>
<line x1="976.9" y1="585.5" x2="976.9" y2="591.5" stroke="#2a3a3a" stroke-width="1.2"/>
<text transform="translate(979.9,594) rotate(-90)" text-anchor="end" font-size="10" font-weight="bold" fill="#2a2a2a">363</text>
<text x="514.5" y="637" font-size="11" font-weight="bold" fill="#101010">DataPoints</text>
<text x="586.2" y="637.5" font-size="11.5" font-weight="bold" fill="#101010">K903</text>
<rect x="942" y="220.8" width="8.7" height="255" fill="#000"/>
<path d="M933.1,475.1 L959.4,475.1 L946.3,501 Z" fill="#000"/>
</svg>
</body></html>
